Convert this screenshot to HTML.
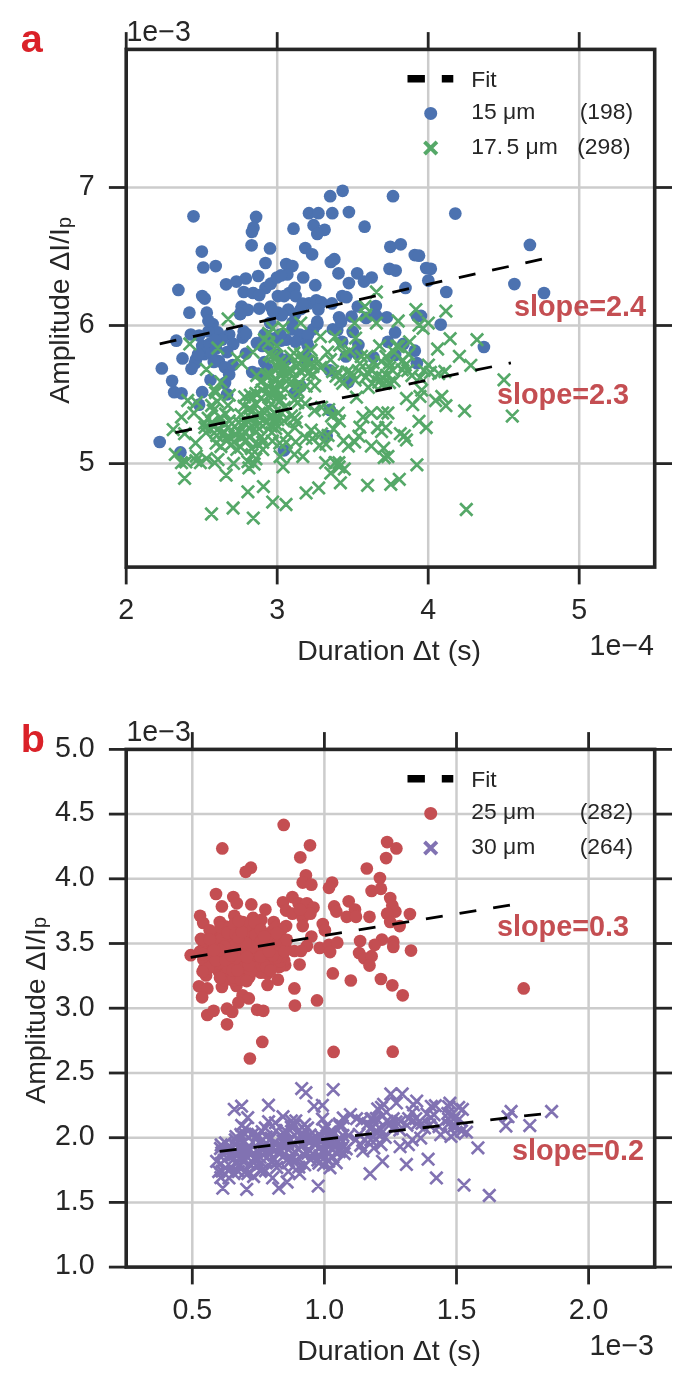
<!DOCTYPE html>
<html><head><meta charset="utf-8"><title>Scatter</title>
<style>html,body{margin:0;padding:0;background:#fff}svg{display:block;will-change:transform}text{font-family:"Liberation Sans",sans-serif}</style></head>
<body>
<svg width="675" height="1391" viewBox="0 0 675 1391">
<rect width="675" height="1391" fill="#fff"/>
<defs><clipPath id="ca"><rect x="126.2" y="49.4" width="528.5" height="517.7"/></clipPath>
<clipPath id="cb"><rect x="126.2" y="749.4" width="528.5" height="517.7"/></clipPath></defs>
<line x1="277.2" y1="49.4" x2="277.2" y2="567.1" stroke="#cccccc" stroke-width="2.5"/>
<line x1="428.2" y1="49.4" x2="428.2" y2="567.1" stroke="#cccccc" stroke-width="2.5"/>
<line x1="579.2" y1="49.4" x2="579.2" y2="567.1" stroke="#cccccc" stroke-width="2.5"/>
<line x1="126.2" y1="187.5" x2="654.7" y2="187.5" stroke="#cccccc" stroke-width="2.5"/>
<line x1="126.2" y1="325.5" x2="654.7" y2="325.5" stroke="#cccccc" stroke-width="2.5"/>
<line x1="126.2" y1="463.6" x2="654.7" y2="463.6" stroke="#cccccc" stroke-width="2.5"/>
<g clip-path="url(#ca)">
<circle cx="193.5" cy="216.3" r="6.35" fill="#4c72b0"/>
<circle cx="256.1" cy="216.9" r="6.35" fill="#4c72b0"/>
<circle cx="253.5" cy="227.7" r="6.35" fill="#4c72b0"/>
<circle cx="252.0" cy="231.9" r="6.35" fill="#4c72b0"/>
<circle cx="251.6" cy="245.3" r="6.35" fill="#4c72b0"/>
<circle cx="270.0" cy="248.4" r="6.35" fill="#4c72b0"/>
<circle cx="201.8" cy="251.6" r="6.35" fill="#4c72b0"/>
<circle cx="265.5" cy="263.0" r="6.35" fill="#4c72b0"/>
<circle cx="203.3" cy="267.5" r="6.35" fill="#4c72b0"/>
<circle cx="215.7" cy="266.1" r="6.35" fill="#4c72b0"/>
<circle cx="178.4" cy="289.9" r="6.35" fill="#4c72b0"/>
<circle cx="226.1" cy="284.3" r="6.35" fill="#4c72b0"/>
<circle cx="236.4" cy="281.6" r="6.35" fill="#4c72b0"/>
<circle cx="245.8" cy="278.5" r="6.35" fill="#4c72b0"/>
<circle cx="258.2" cy="276.0" r="6.35" fill="#4c72b0"/>
<circle cx="243.7" cy="292.0" r="6.35" fill="#4c72b0"/>
<circle cx="253.0" cy="293.0" r="6.35" fill="#4c72b0"/>
<circle cx="265.5" cy="287.9" r="6.35" fill="#4c72b0"/>
<circle cx="270.7" cy="283.7" r="6.35" fill="#4c72b0"/>
<circle cx="276.9" cy="277.5" r="6.35" fill="#4c72b0"/>
<circle cx="259.3" cy="295.1" r="6.35" fill="#4c72b0"/>
<circle cx="202.2" cy="296.1" r="6.35" fill="#4c72b0"/>
<circle cx="204.7" cy="298.6" r="6.35" fill="#4c72b0"/>
<circle cx="241.6" cy="306.5" r="6.35" fill="#4c72b0"/>
<circle cx="240.6" cy="313.8" r="6.35" fill="#4c72b0"/>
<circle cx="189.4" cy="312.7" r="6.35" fill="#4c72b0"/>
<circle cx="206.8" cy="312.7" r="6.35" fill="#4c72b0"/>
<circle cx="259.3" cy="308.6" r="6.35" fill="#4c72b0"/>
<circle cx="270.7" cy="306.5" r="6.35" fill="#4c72b0"/>
<circle cx="277.9" cy="296.1" r="6.35" fill="#4c72b0"/>
<circle cx="277.9" cy="312.7" r="6.35" fill="#4c72b0"/>
<circle cx="212.6" cy="324.1" r="6.35" fill="#4c72b0"/>
<circle cx="217.8" cy="332.4" r="6.35" fill="#4c72b0"/>
<circle cx="208.4" cy="331.4" r="6.35" fill="#4c72b0"/>
<circle cx="190.8" cy="334.5" r="6.35" fill="#4c72b0"/>
<circle cx="199.1" cy="335.6" r="6.35" fill="#4c72b0"/>
<circle cx="176.3" cy="340.7" r="6.35" fill="#4c72b0"/>
<circle cx="243.7" cy="331.4" r="6.35" fill="#4c72b0"/>
<circle cx="242.7" cy="337.6" r="6.35" fill="#4c72b0"/>
<circle cx="229.2" cy="334.5" r="6.35" fill="#4c72b0"/>
<circle cx="233.3" cy="343.9" r="6.35" fill="#4c72b0"/>
<circle cx="202.2" cy="345.9" r="6.35" fill="#4c72b0"/>
<circle cx="209.5" cy="343.9" r="6.35" fill="#4c72b0"/>
<circle cx="221.9" cy="339.7" r="6.35" fill="#4c72b0"/>
<circle cx="264.4" cy="334.5" r="6.35" fill="#4c72b0"/>
<circle cx="272.7" cy="339.7" r="6.35" fill="#4c72b0"/>
<circle cx="262.4" cy="345.9" r="6.35" fill="#4c72b0"/>
<circle cx="182.5" cy="358.4" r="6.35" fill="#4c72b0"/>
<circle cx="196.0" cy="359.4" r="6.35" fill="#4c72b0"/>
<circle cx="204.3" cy="354.2" r="6.35" fill="#4c72b0"/>
<circle cx="227.1" cy="352.1" r="6.35" fill="#4c72b0"/>
<circle cx="342.6" cy="190.8" r="6.35" fill="#4c72b0"/>
<circle cx="330.2" cy="196.2" r="6.35" fill="#4c72b0"/>
<circle cx="393.0" cy="196.2" r="6.35" fill="#4c72b0"/>
<circle cx="309.0" cy="213.2" r="6.35" fill="#4c72b0"/>
<circle cx="318.4" cy="213.2" r="6.35" fill="#4c72b0"/>
<circle cx="332.3" cy="213.2" r="6.35" fill="#4c72b0"/>
<circle cx="348.9" cy="212.1" r="6.35" fill="#4c72b0"/>
<circle cx="293.5" cy="228.7" r="6.35" fill="#4c72b0"/>
<circle cx="313.6" cy="225.2" r="6.35" fill="#4c72b0"/>
<circle cx="324.6" cy="229.8" r="6.35" fill="#4c72b0"/>
<circle cx="317.3" cy="233.9" r="6.35" fill="#4c72b0"/>
<circle cx="364.6" cy="226.7" r="6.35" fill="#4c72b0"/>
<circle cx="305.3" cy="248.0" r="6.35" fill="#4c72b0"/>
<circle cx="312.1" cy="254.3" r="6.35" fill="#4c72b0"/>
<circle cx="390.3" cy="246.8" r="6.35" fill="#4c72b0"/>
<circle cx="400.7" cy="244.3" r="6.35" fill="#4c72b0"/>
<circle cx="414.8" cy="255.1" r="6.35" fill="#4c72b0"/>
<circle cx="330.8" cy="261.9" r="6.35" fill="#4c72b0"/>
<circle cx="334.3" cy="259.2" r="6.35" fill="#4c72b0"/>
<circle cx="286.2" cy="264.0" r="6.35" fill="#4c72b0"/>
<circle cx="292.4" cy="266.1" r="6.35" fill="#4c72b0"/>
<circle cx="287.3" cy="274.4" r="6.35" fill="#4c72b0"/>
<circle cx="281.0" cy="275.4" r="6.35" fill="#4c72b0"/>
<circle cx="338.5" cy="273.3" r="6.35" fill="#4c72b0"/>
<circle cx="303.2" cy="277.5" r="6.35" fill="#4c72b0"/>
<circle cx="357.2" cy="273.3" r="6.35" fill="#4c72b0"/>
<circle cx="371.7" cy="277.5" r="6.35" fill="#4c72b0"/>
<circle cx="364.0" cy="281.6" r="6.35" fill="#4c72b0"/>
<circle cx="389.5" cy="268.8" r="6.35" fill="#4c72b0"/>
<circle cx="395.7" cy="270.6" r="6.35" fill="#4c72b0"/>
<circle cx="348.9" cy="283.1" r="6.35" fill="#4c72b0"/>
<circle cx="315.3" cy="285.2" r="6.35" fill="#4c72b0"/>
<circle cx="294.5" cy="287.9" r="6.35" fill="#4c72b0"/>
<circle cx="289.3" cy="293.0" r="6.35" fill="#4c72b0"/>
<circle cx="295.6" cy="296.1" r="6.35" fill="#4c72b0"/>
<circle cx="284.1" cy="296.1" r="6.35" fill="#4c72b0"/>
<circle cx="342.2" cy="296.1" r="6.35" fill="#4c72b0"/>
<circle cx="346.4" cy="297.2" r="6.35" fill="#4c72b0"/>
<circle cx="405.5" cy="287.9" r="6.35" fill="#4c72b0"/>
<circle cx="309.0" cy="303.4" r="6.35" fill="#4c72b0"/>
<circle cx="316.3" cy="300.3" r="6.35" fill="#4c72b0"/>
<circle cx="321.5" cy="302.4" r="6.35" fill="#4c72b0"/>
<circle cx="318.4" cy="309.6" r="6.35" fill="#4c72b0"/>
<circle cx="331.9" cy="303.4" r="6.35" fill="#4c72b0"/>
<circle cx="288.3" cy="309.6" r="6.35" fill="#4c72b0"/>
<circle cx="281.0" cy="314.8" r="6.35" fill="#4c72b0"/>
<circle cx="357.8" cy="306.5" r="6.35" fill="#4c72b0"/>
<circle cx="375.8" cy="306.1" r="6.35" fill="#4c72b0"/>
<circle cx="339.1" cy="317.3" r="6.35" fill="#4c72b0"/>
<circle cx="351.6" cy="316.5" r="6.35" fill="#4c72b0"/>
<circle cx="366.1" cy="317.9" r="6.35" fill="#4c72b0"/>
<circle cx="386.8" cy="317.3" r="6.35" fill="#4c72b0"/>
<circle cx="416.9" cy="315.9" r="6.35" fill="#4c72b0"/>
<circle cx="317.3" cy="324.1" r="6.35" fill="#4c72b0"/>
<circle cx="313.2" cy="329.3" r="6.35" fill="#4c72b0"/>
<circle cx="332.9" cy="329.3" r="6.35" fill="#4c72b0"/>
<circle cx="292.4" cy="329.3" r="6.35" fill="#4c72b0"/>
<circle cx="299.7" cy="334.5" r="6.35" fill="#4c72b0"/>
<circle cx="286.2" cy="339.7" r="6.35" fill="#4c72b0"/>
<circle cx="295.6" cy="341.8" r="6.35" fill="#4c72b0"/>
<circle cx="307.0" cy="342.8" r="6.35" fill="#4c72b0"/>
<circle cx="395.1" cy="332.4" r="6.35" fill="#4c72b0"/>
<circle cx="342.2" cy="341.8" r="6.35" fill="#4c72b0"/>
<circle cx="358.4" cy="344.9" r="6.35" fill="#4c72b0"/>
<circle cx="387.9" cy="341.8" r="6.35" fill="#4c72b0"/>
<circle cx="403.4" cy="343.9" r="6.35" fill="#4c72b0"/>
<circle cx="455.3" cy="213.6" r="6.35" fill="#4c72b0"/>
<circle cx="529.9" cy="244.9" r="6.35" fill="#4c72b0"/>
<circle cx="514.4" cy="284.1" r="6.35" fill="#4c72b0"/>
<circle cx="544.0" cy="293.0" r="6.35" fill="#4c72b0"/>
<circle cx="426.2" cy="268.1" r="6.35" fill="#4c72b0"/>
<circle cx="430.8" cy="268.8" r="6.35" fill="#4c72b0"/>
<circle cx="428.3" cy="280.6" r="6.35" fill="#4c72b0"/>
<circle cx="446.3" cy="292.0" r="6.35" fill="#4c72b0"/>
<circle cx="421.0" cy="315.9" r="6.35" fill="#4c72b0"/>
<circle cx="440.7" cy="324.6" r="6.35" fill="#4c72b0"/>
<circle cx="483.9" cy="347.0" r="6.35" fill="#4c72b0"/>
<circle cx="419.0" cy="255.7" r="6.35" fill="#4c72b0"/>
<circle cx="161.8" cy="368.4" r="6.35" fill="#4c72b0"/>
<circle cx="172.1" cy="380.8" r="6.35" fill="#4c72b0"/>
<circle cx="174.2" cy="392.2" r="6.35" fill="#4c72b0"/>
<circle cx="181.5" cy="393.3" r="6.35" fill="#4c72b0"/>
<circle cx="159.7" cy="442.0" r="6.35" fill="#4c72b0"/>
<circle cx="180.4" cy="452.4" r="6.35" fill="#4c72b0"/>
<circle cx="195.0" cy="363.2" r="6.35" fill="#4c72b0"/>
<circle cx="218.8" cy="361.1" r="6.35" fill="#4c72b0"/>
<circle cx="225.0" cy="367.3" r="6.35" fill="#4c72b0"/>
<circle cx="229.2" cy="374.6" r="6.35" fill="#4c72b0"/>
<circle cx="210.5" cy="379.8" r="6.35" fill="#4c72b0"/>
<circle cx="225.0" cy="382.9" r="6.35" fill="#4c72b0"/>
<circle cx="202.2" cy="392.2" r="6.35" fill="#4c72b0"/>
<circle cx="227.1" cy="394.3" r="6.35" fill="#4c72b0"/>
<circle cx="199.1" cy="404.7" r="6.35" fill="#4c72b0"/>
<circle cx="264.4" cy="362.1" r="6.35" fill="#4c72b0"/>
<circle cx="258.2" cy="373.6" r="6.35" fill="#4c72b0"/>
<circle cx="356.7" cy="352.8" r="6.35" fill="#4c72b0"/>
<circle cx="373.3" cy="357.0" r="6.35" fill="#4c72b0"/>
<circle cx="395.1" cy="354.9" r="6.35" fill="#4c72b0"/>
<circle cx="414.8" cy="350.7" r="6.35" fill="#4c72b0"/>
<circle cx="416.9" cy="363.2" r="6.35" fill="#4c72b0"/>
<circle cx="329.8" cy="370.4" r="6.35" fill="#4c72b0"/>
<circle cx="300.7" cy="386.0" r="6.35" fill="#4c72b0"/>
<circle cx="294.5" cy="393.3" r="6.35" fill="#4c72b0"/>
<circle cx="329.8" cy="409.9" r="6.35" fill="#4c72b0"/>
<circle cx="326.7" cy="435.8" r="6.35" fill="#4c72b0"/>
<circle cx="284.1" cy="450.3" r="6.35" fill="#4c72b0"/>
<circle cx="307.0" cy="361.1" r="6.35" fill="#4c72b0"/>
<circle cx="348.4" cy="381.9" r="6.35" fill="#4c72b0"/>
<circle cx="345.9" cy="356.5" r="6.35" fill="#4c72b0"/>
<circle cx="270.1" cy="322.8" r="6.35" fill="#4c72b0"/>
<circle cx="211.4" cy="353.2" r="6.35" fill="#4c72b0"/>
<circle cx="208.4" cy="320.8" r="6.35" fill="#4c72b0"/>
<circle cx="281.3" cy="340.6" r="6.35" fill="#4c72b0"/>
<circle cx="295.2" cy="314.1" r="6.35" fill="#4c72b0"/>
<circle cx="270.0" cy="338.5" r="6.35" fill="#4c72b0"/>
<circle cx="191.5" cy="368.8" r="6.35" fill="#4c72b0"/>
<circle cx="298.2" cy="387.7" r="6.35" fill="#4c72b0"/>
<circle cx="280.3" cy="334.6" r="6.35" fill="#4c72b0"/>
<circle cx="337.2" cy="330.2" r="6.35" fill="#4c72b0"/>
<circle cx="317.2" cy="321.7" r="6.35" fill="#4c72b0"/>
<circle cx="286.4" cy="359.5" r="6.35" fill="#4c72b0"/>
<circle cx="308.0" cy="334.8" r="6.35" fill="#4c72b0"/>
<circle cx="213.8" cy="362.0" r="6.35" fill="#4c72b0"/>
<circle cx="277.4" cy="354.6" r="6.35" fill="#4c72b0"/>
<circle cx="268.1" cy="344.9" r="6.35" fill="#4c72b0"/>
<circle cx="300.9" cy="309.0" r="6.35" fill="#4c72b0"/>
<circle cx="246.1" cy="333.8" r="6.35" fill="#4c72b0"/>
<circle cx="376.1" cy="315.4" r="6.35" fill="#4c72b0"/>
<circle cx="307.9" cy="345.9" r="6.35" fill="#4c72b0"/>
<circle cx="247.8" cy="309.8" r="6.35" fill="#4c72b0"/>
<circle cx="302.7" cy="303.7" r="6.35" fill="#4c72b0"/>
<circle cx="252.2" cy="372.1" r="6.35" fill="#4c72b0"/>
<circle cx="198.1" cy="354.3" r="6.35" fill="#4c72b0"/>
<circle cx="281.8" cy="315.2" r="6.35" fill="#4c72b0"/>
<circle cx="306.7" cy="357.3" r="6.35" fill="#4c72b0"/>
<circle cx="240.0" cy="314.1" r="6.35" fill="#4c72b0"/>
<circle cx="232.7" cy="365.1" r="6.35" fill="#4c72b0"/>
<circle cx="216.1" cy="348.5" r="6.35" fill="#4c72b0"/>
<circle cx="256.9" cy="343.1" r="6.35" fill="#4c72b0"/>
<circle cx="352.7" cy="331.9" r="6.35" fill="#4c72b0"/>
<circle cx="341.1" cy="321.7" r="6.35" fill="#4c72b0"/>
<circle cx="245.9" cy="353.6" r="6.35" fill="#4c72b0"/>
<circle cx="273.0" cy="311.6" r="6.35" fill="#4c72b0"/>
<circle cx="292.4" cy="322.7" r="6.35" fill="#4c72b0"/>
<circle cx="215.0" cy="340.0" r="6.35" fill="#4c72b0"/>
<circle cx="267.5" cy="368.7" r="6.35" fill="#4c72b0"/>
<circle cx="275.4" cy="338.2" r="6.35" fill="#4c72b0"/>
<path d="M221.9 312.8l12.4 12.4m-12.4 0l12.4 -12.4M183.6 337.7l12.4 12.4m-12.4 0l12.4 -12.4M211.6 341.8l12.4 12.4m-12.4 0l12.4 -12.4M246.8 345.9l12.4 12.4m-12.4 0l12.4 -12.4M262.4 327.3l12.4 12.4m-12.4 0l12.4 -12.4M266.5 322.1l12.4 12.4m-12.4 0l12.4 -12.4M258.2 333.5l12.4 12.4m-12.4 0l12.4 -12.4M270.7 339.7l12.4 12.4m-12.4 0l12.4 -12.4M231.3 352.2l12.4 12.4m-12.4 0l12.4 -12.4M265.5 350.1l12.4 12.4m-12.4 0l12.4 -12.4M370.2 285.8l12.4 12.4m-12.4 0l12.4 -12.4M358.8 300.3l12.4 12.4m-12.4 0l12.4 -12.4M409.7 303.4l12.4 12.4m-12.4 0l12.4 -12.4M294.5 316.9l12.4 12.4m-12.4 0l12.4 -12.4M276.9 321.1l12.4 12.4m-12.4 0l12.4 -12.4M348.5 316.9l12.4 12.4m-12.4 0l12.4 -12.4M359.9 308.6l12.4 12.4m-12.4 0l12.4 -12.4M370.2 316.9l12.4 12.4m-12.4 0l12.4 -12.4M392.0 314.8l12.4 12.4m-12.4 0l12.4 -12.4M314.2 330.4l12.4 12.4m-12.4 0l12.4 -12.4M328.8 330.4l12.4 12.4m-12.4 0l12.4 -12.4M304.9 343.9l12.4 12.4m-12.4 0l12.4 -12.4M321.5 345.9l12.4 12.4m-12.4 0l12.4 -12.4M294.5 348.0l12.4 12.4m-12.4 0l12.4 -12.4M284.2 350.1l12.4 12.4m-12.4 0l12.4 -12.4M338.1 348.0l12.4 12.4m-12.4 0l12.4 -12.4M373.4 339.7l12.4 12.4m-12.4 0l12.4 -12.4M403.4 335.6l12.4 12.4m-12.4 0l12.4 -12.4M387.9 345.9l12.4 12.4m-12.4 0l12.4 -12.4M402.4 348.0l12.4 12.4m-12.4 0l12.4 -12.4M360.9 350.1l12.4 12.4m-12.4 0l12.4 -12.4M412.8 319.0l12.4 12.4m-12.4 0l12.4 -12.4M439.7 304.9l12.4 12.4m-12.4 0l12.4 -12.4M422.1 316.9l12.4 12.4m-12.4 0l12.4 -12.4M416.9 322.1l12.4 12.4m-12.4 0l12.4 -12.4M443.9 332.5l12.4 12.4m-12.4 0l12.4 -12.4M470.8 333.5l12.4 12.4m-12.4 0l12.4 -12.4M431.4 342.8l12.4 12.4m-12.4 0l12.4 -12.4M453.2 350.1l12.4 12.4m-12.4 0l12.4 -12.4M235.4 357.0l12.4 12.4m-12.4 0l12.4 -12.4M200.2 363.2l12.4 12.4m-12.4 0l12.4 -12.4M262.4 336.2l12.4 12.4m-12.4 0l12.4 -12.4M270.7 361.1l12.4 12.4m-12.4 0l12.4 -12.4M260.3 368.4l12.4 12.4m-12.4 0l12.4 -12.4M214.7 375.7l12.4 12.4m-12.4 0l12.4 -12.4M208.5 383.9l12.4 12.4m-12.4 0l12.4 -12.4M181.5 394.3l12.4 12.4m-12.4 0l12.4 -12.4M187.7 406.8l12.4 12.4m-12.4 0l12.4 -12.4M175.3 410.9l12.4 12.4m-12.4 0l12.4 -12.4M167.0 423.4l12.4 12.4m-12.4 0l12.4 -12.4M178.4 427.5l12.4 12.4m-12.4 0l12.4 -12.4M169.1 448.2l12.4 12.4m-12.4 0l12.4 -12.4M175.3 456.5l12.4 12.4m-12.4 0l12.4 -12.4M178.4 472.1l12.4 12.4m-12.4 0l12.4 -12.4M189.8 454.5l12.4 12.4m-12.4 0l12.4 -12.4M200.2 452.4l12.4 12.4m-12.4 0l12.4 -12.4M208.5 456.5l12.4 12.4m-12.4 0l12.4 -12.4M219.9 469.0l12.4 12.4m-12.4 0l12.4 -12.4M241.7 455.5l12.4 12.4m-12.4 0l12.4 -12.4M242.7 461.7l12.4 12.4m-12.4 0l12.4 -12.4M241.7 485.6l12.4 12.4m-12.4 0l12.4 -12.4M257.2 480.4l12.4 12.4m-12.4 0l12.4 -12.4M266.5 495.9l12.4 12.4m-12.4 0l12.4 -12.4M356.8 410.9l12.4 12.4m-12.4 0l12.4 -12.4M365.1 406.8l12.4 12.4m-12.4 0l12.4 -12.4M376.5 406.8l12.4 12.4m-12.4 0l12.4 -12.4M381.7 406.8l12.4 12.4m-12.4 0l12.4 -12.4M371.3 421.3l12.4 12.4m-12.4 0l12.4 -12.4M375.4 425.4l12.4 12.4m-12.4 0l12.4 -12.4M379.6 421.3l12.4 12.4m-12.4 0l12.4 -12.4M394.1 427.5l12.4 12.4m-12.4 0l12.4 -12.4M400.3 433.7l12.4 12.4m-12.4 0l12.4 -12.4M398.2 429.6l12.4 12.4m-12.4 0l12.4 -12.4M348.5 435.8l12.4 12.4m-12.4 0l12.4 -12.4M342.2 439.9l12.4 12.4m-12.4 0l12.4 -12.4M365.1 439.9l12.4 12.4m-12.4 0l12.4 -12.4M377.5 442.0l12.4 12.4m-12.4 0l12.4 -12.4M381.7 450.3l12.4 12.4m-12.4 0l12.4 -12.4M410.7 458.6l12.4 12.4m-12.4 0l12.4 -12.4M412.8 415.1l12.4 12.4m-12.4 0l12.4 -12.4M319.4 456.5l12.4 12.4m-12.4 0l12.4 -12.4M328.8 456.5l12.4 12.4m-12.4 0l12.4 -12.4M332.9 460.7l12.4 12.4m-12.4 0l12.4 -12.4M338.1 462.8l12.4 12.4m-12.4 0l12.4 -12.4M324.6 466.9l12.4 12.4m-12.4 0l12.4 -12.4M276.9 460.7l12.4 12.4m-12.4 0l12.4 -12.4M288.3 448.2l12.4 12.4m-12.4 0l12.4 -12.4M296.6 450.3l12.4 12.4m-12.4 0l12.4 -12.4M406.5 398.5l12.4 12.4m-12.4 0l12.4 -12.4M400.3 392.2l12.4 12.4m-12.4 0l12.4 -12.4M464.6 359.1l12.4 12.4m-12.4 0l12.4 -12.4M497.8 373.6l12.4 12.4m-12.4 0l12.4 -12.4M506.1 409.9l12.4 12.4m-12.4 0l12.4 -12.4M458.4 404.7l12.4 12.4m-12.4 0l12.4 -12.4M435.6 390.2l12.4 12.4m-12.4 0l12.4 -12.4M439.7 399.5l12.4 12.4m-12.4 0l12.4 -12.4M429.4 394.3l12.4 12.4m-12.4 0l12.4 -12.4M420.0 421.3l12.4 12.4m-12.4 0l12.4 -12.4M417.9 364.2l12.4 12.4m-12.4 0l12.4 -12.4M424.2 366.3l12.4 12.4m-12.4 0l12.4 -12.4M432.5 367.4l12.4 12.4m-12.4 0l12.4 -12.4M438.7 365.3l12.4 12.4m-12.4 0l12.4 -12.4M413.8 371.5l12.4 12.4m-12.4 0l12.4 -12.4M413.8 390.2l12.4 12.4m-12.4 0l12.4 -12.4M205.3 507.8l12.4 12.4m-12.4 0l12.4 -12.4M226.9 501.8l12.4 12.4m-12.4 0l12.4 -12.4M247.1 511.9l12.4 12.4m-12.4 0l12.4 -12.4M279.8 498.3l12.4 12.4m-12.4 0l12.4 -12.4M299.9 486.7l12.4 12.4m-12.4 0l12.4 -12.4M312.5 481.7l12.4 12.4m-12.4 0l12.4 -12.4M334.2 476.6l12.4 12.4m-12.4 0l12.4 -12.4M361.4 479.1l12.4 12.4m-12.4 0l12.4 -12.4M384.6 478.1l12.4 12.4m-12.4 0l12.4 -12.4M393.1 473.1l12.4 12.4m-12.4 0l12.4 -12.4M460.1 503.3l12.4 12.4m-12.4 0l12.4 -12.4M332.7 456.5l12.4 12.4m-12.4 0l12.4 -12.4M378.0 451.4l12.4 12.4m-12.4 0l12.4 -12.4M194.2 456.5l12.4 12.4m-12.4 0l12.4 -12.4M266.2 434.9l12.4 12.4m-12.4 0l12.4 -12.4M219.3 407.8l12.4 12.4m-12.4 0l12.4 -12.4M256.6 443.4l12.4 12.4m-12.4 0l12.4 -12.4M250.0 398.1l12.4 12.4m-12.4 0l12.4 -12.4M222.2 420.9l12.4 12.4m-12.4 0l12.4 -12.4M267.5 413.6l12.4 12.4m-12.4 0l12.4 -12.4M232.6 416.3l12.4 12.4m-12.4 0l12.4 -12.4M245.1 405.8l12.4 12.4m-12.4 0l12.4 -12.4M243.5 422.3l12.4 12.4m-12.4 0l12.4 -12.4M285.3 409.7l12.4 12.4m-12.4 0l12.4 -12.4M265.1 397.8l12.4 12.4m-12.4 0l12.4 -12.4M228.6 420.2l12.4 12.4m-12.4 0l12.4 -12.4M265.3 409.0l12.4 12.4m-12.4 0l12.4 -12.4M273.6 436.9l12.4 12.4m-12.4 0l12.4 -12.4M289.5 435.7l12.4 12.4m-12.4 0l12.4 -12.4M210.6 429.3l12.4 12.4m-12.4 0l12.4 -12.4M227.6 435.9l12.4 12.4m-12.4 0l12.4 -12.4M253.2 406.9l12.4 12.4m-12.4 0l12.4 -12.4M238.4 390.8l12.4 12.4m-12.4 0l12.4 -12.4M202.0 412.0l12.4 12.4m-12.4 0l12.4 -12.4M265.7 426.4l12.4 12.4m-12.4 0l12.4 -12.4M288.3 393.8l12.4 12.4m-12.4 0l12.4 -12.4M221.9 429.6l12.4 12.4m-12.4 0l12.4 -12.4M217.6 426.9l12.4 12.4m-12.4 0l12.4 -12.4M253.6 416.9l12.4 12.4m-12.4 0l12.4 -12.4M211.0 423.7l12.4 12.4m-12.4 0l12.4 -12.4M198.4 417.0l12.4 12.4m-12.4 0l12.4 -12.4M251.9 437.9l12.4 12.4m-12.4 0l12.4 -12.4M205.6 416.3l12.4 12.4m-12.4 0l12.4 -12.4M250.2 425.3l12.4 12.4m-12.4 0l12.4 -12.4M211.8 453.4l12.4 12.4m-12.4 0l12.4 -12.4M224.4 438.9l12.4 12.4m-12.4 0l12.4 -12.4M238.7 425.5l12.4 12.4m-12.4 0l12.4 -12.4M288.5 421.5l12.4 12.4m-12.4 0l12.4 -12.4M243.5 402.0l12.4 12.4m-12.4 0l12.4 -12.4M221.8 399.1l12.4 12.4m-12.4 0l12.4 -12.4M291.5 384.7l12.4 12.4m-12.4 0l12.4 -12.4M179.7 455.7l12.4 12.4m-12.4 0l12.4 -12.4M275.4 406.7l12.4 12.4m-12.4 0l12.4 -12.4M262.6 401.5l12.4 12.4m-12.4 0l12.4 -12.4M229.1 428.7l12.4 12.4m-12.4 0l12.4 -12.4M245.5 412.6l12.4 12.4m-12.4 0l12.4 -12.4M243.0 431.0l12.4 12.4m-12.4 0l12.4 -12.4M264.8 420.0l12.4 12.4m-12.4 0l12.4 -12.4M237.8 400.0l12.4 12.4m-12.4 0l12.4 -12.4M247.9 457.8l12.4 12.4m-12.4 0l12.4 -12.4M198.7 421.2l12.4 12.4m-12.4 0l12.4 -12.4M260.2 416.5l12.4 12.4m-12.4 0l12.4 -12.4M262.5 389.5l12.4 12.4m-12.4 0l12.4 -12.4M241.8 415.5l12.4 12.4m-12.4 0l12.4 -12.4M209.4 386.5l12.4 12.4m-12.4 0l12.4 -12.4M277.6 414.7l12.4 12.4m-12.4 0l12.4 -12.4M205.4 399.3l12.4 12.4m-12.4 0l12.4 -12.4M223.0 414.8l12.4 12.4m-12.4 0l12.4 -12.4M190.1 449.9l12.4 12.4m-12.4 0l12.4 -12.4M252.8 411.0l12.4 12.4m-12.4 0l12.4 -12.4M280.0 436.3l12.4 12.4m-12.4 0l12.4 -12.4M218.4 418.5l12.4 12.4m-12.4 0l12.4 -12.4M214.7 440.3l12.4 12.4m-12.4 0l12.4 -12.4M223.1 389.0l12.4 12.4m-12.4 0l12.4 -12.4M244.1 389.0l12.4 12.4m-12.4 0l12.4 -12.4M271.6 413.4l12.4 12.4m-12.4 0l12.4 -12.4M245.3 442.3l12.4 12.4m-12.4 0l12.4 -12.4M258.5 406.9l12.4 12.4m-12.4 0l12.4 -12.4M214.3 411.1l12.4 12.4m-12.4 0l12.4 -12.4M230.6 443.2l12.4 12.4m-12.4 0l12.4 -12.4M207.6 420.5l12.4 12.4m-12.4 0l12.4 -12.4M250.7 420.3l12.4 12.4m-12.4 0l12.4 -12.4M237.6 416.3l12.4 12.4m-12.4 0l12.4 -12.4M269.7 418.1l12.4 12.4m-12.4 0l12.4 -12.4M255.2 391.7l12.4 12.4m-12.4 0l12.4 -12.4M220.8 433.9l12.4 12.4m-12.4 0l12.4 -12.4M190.4 396.1l12.4 12.4m-12.4 0l12.4 -12.4M269.5 422.4l12.4 12.4m-12.4 0l12.4 -12.4M199.8 426.5l12.4 12.4m-12.4 0l12.4 -12.4M274.4 394.1l12.4 12.4m-12.4 0l12.4 -12.4M207.1 404.3l12.4 12.4m-12.4 0l12.4 -12.4M211.1 395.2l12.4 12.4m-12.4 0l12.4 -12.4M249.7 452.6l12.4 12.4m-12.4 0l12.4 -12.4M235.2 431.9l12.4 12.4m-12.4 0l12.4 -12.4M227.4 457.2l12.4 12.4m-12.4 0l12.4 -12.4M234.8 408.5l12.4 12.4m-12.4 0l12.4 -12.4M245.8 448.5l12.4 12.4m-12.4 0l12.4 -12.4M256.5 436.1l12.4 12.4m-12.4 0l12.4 -12.4M240.0 433.7l12.4 12.4m-12.4 0l12.4 -12.4M268.4 406.5l12.4 12.4m-12.4 0l12.4 -12.4M273.9 450.4l12.4 12.4m-12.4 0l12.4 -12.4M290.3 415.6l12.4 12.4m-12.4 0l12.4 -12.4M278.2 401.3l12.4 12.4m-12.4 0l12.4 -12.4M189.4 436.8l12.4 12.4m-12.4 0l12.4 -12.4M233.1 425.7l12.4 12.4m-12.4 0l12.4 -12.4M249.6 387.3l12.4 12.4m-12.4 0l12.4 -12.4M254.7 430.8l12.4 12.4m-12.4 0l12.4 -12.4M234.4 440.9l12.4 12.4m-12.4 0l12.4 -12.4M209.9 437.0l12.4 12.4m-12.4 0l12.4 -12.4M293.5 364.5l12.4 12.4m-12.4 0l12.4 -12.4M288.5 372.2l12.4 12.4m-12.4 0l12.4 -12.4M272.4 361.4l12.4 12.4m-12.4 0l12.4 -12.4M299.3 362.6l12.4 12.4m-12.4 0l12.4 -12.4M263.0 348.2l12.4 12.4m-12.4 0l12.4 -12.4M281.7 364.8l12.4 12.4m-12.4 0l12.4 -12.4M300.4 354.8l12.4 12.4m-12.4 0l12.4 -12.4M280.4 375.1l12.4 12.4m-12.4 0l12.4 -12.4M296.3 353.6l12.4 12.4m-12.4 0l12.4 -12.4M312.4 355.4l12.4 12.4m-12.4 0l12.4 -12.4M306.7 360.3l12.4 12.4m-12.4 0l12.4 -12.4M273.1 355.1l12.4 12.4m-12.4 0l12.4 -12.4M274.4 387.4l12.4 12.4m-12.4 0l12.4 -12.4M308.5 379.7l12.4 12.4m-12.4 0l12.4 -12.4M276.8 362.8l12.4 12.4m-12.4 0l12.4 -12.4M306.5 368.0l12.4 12.4m-12.4 0l12.4 -12.4M326.4 365.4l12.4 12.4m-12.4 0l12.4 -12.4M261.1 371.3l12.4 12.4m-12.4 0l12.4 -12.4M262.1 380.5l12.4 12.4m-12.4 0l12.4 -12.4M268.2 381.1l12.4 12.4m-12.4 0l12.4 -12.4M278.9 383.0l12.4 12.4m-12.4 0l12.4 -12.4M264.0 368.1l12.4 12.4m-12.4 0l12.4 -12.4M273.1 379.0l12.4 12.4m-12.4 0l12.4 -12.4M251.0 388.3l12.4 12.4m-12.4 0l12.4 -12.4M277.5 371.9l12.4 12.4m-12.4 0l12.4 -12.4M250.5 369.3l12.4 12.4m-12.4 0l12.4 -12.4M256.0 383.9l12.4 12.4m-12.4 0l12.4 -12.4M314.5 361.4l12.4 12.4m-12.4 0l12.4 -12.4M254.6 376.0l12.4 12.4m-12.4 0l12.4 -12.4M287.7 346.9l12.4 12.4m-12.4 0l12.4 -12.4M300.0 380.0l12.4 12.4m-12.4 0l12.4 -12.4M270.8 373.6l12.4 12.4m-12.4 0l12.4 -12.4M269.4 385.5l12.4 12.4m-12.4 0l12.4 -12.4M301.9 367.2l12.4 12.4m-12.4 0l12.4 -12.4M286.2 365.0l12.4 12.4m-12.4 0l12.4 -12.4M292.2 378.7l12.4 12.4m-12.4 0l12.4 -12.4M277.5 356.7l12.4 12.4m-12.4 0l12.4 -12.4M285.3 375.6l12.4 12.4m-12.4 0l12.4 -12.4M290.4 359.9l12.4 12.4m-12.4 0l12.4 -12.4M273.5 368.3l12.4 12.4m-12.4 0l12.4 -12.4M266.5 389.5l12.4 12.4m-12.4 0l12.4 -12.4M269.1 350.9l12.4 12.4m-12.4 0l12.4 -12.4M383.5 361.2l12.4 12.4m-12.4 0l12.4 -12.4M352.1 364.4l12.4 12.4m-12.4 0l12.4 -12.4M362.4 367.5l12.4 12.4m-12.4 0l12.4 -12.4M387.9 374.6l12.4 12.4m-12.4 0l12.4 -12.4M383.3 376.4l12.4 12.4m-12.4 0l12.4 -12.4M386.6 364.2l12.4 12.4m-12.4 0l12.4 -12.4M366.9 356.3l12.4 12.4m-12.4 0l12.4 -12.4M334.2 373.2l12.4 12.4m-12.4 0l12.4 -12.4M370.9 369.8l12.4 12.4m-12.4 0l12.4 -12.4M379.8 350.3l12.4 12.4m-12.4 0l12.4 -12.4M353.8 357.4l12.4 12.4m-12.4 0l12.4 -12.4M399.1 358.9l12.4 12.4m-12.4 0l12.4 -12.4M375.1 355.2l12.4 12.4m-12.4 0l12.4 -12.4M340.7 366.0l12.4 12.4m-12.4 0l12.4 -12.4M336.5 377.1l12.4 12.4m-12.4 0l12.4 -12.4M364.6 362.6l12.4 12.4m-12.4 0l12.4 -12.4M396.1 363.7l12.4 12.4m-12.4 0l12.4 -12.4M331.6 366.0l12.4 12.4m-12.4 0l12.4 -12.4M365.8 377.4l12.4 12.4m-12.4 0l12.4 -12.4M372.5 375.8l12.4 12.4m-12.4 0l12.4 -12.4M376.2 371.1l12.4 12.4m-12.4 0l12.4 -12.4M383.2 356.9l12.4 12.4m-12.4 0l12.4 -12.4M415.5 383.9l12.4 12.4m-12.4 0l12.4 -12.4M401.4 364.4l12.4 12.4m-12.4 0l12.4 -12.4M422.2 358.9l12.4 12.4m-12.4 0l12.4 -12.4M343.7 344.6l12.4 12.4m-12.4 0l12.4 -12.4M380.2 369.1l12.4 12.4m-12.4 0l12.4 -12.4M359.7 370.8l12.4 12.4m-12.4 0l12.4 -12.4M329.8 370.0l12.4 12.4m-12.4 0l12.4 -12.4M377.7 377.2l12.4 12.4m-12.4 0l12.4 -12.4M396.8 354.2l12.4 12.4m-12.4 0l12.4 -12.4M350.3 391.0l12.4 12.4m-12.4 0l12.4 -12.4M392.4 340.3l12.4 12.4m-12.4 0l12.4 -12.4M355.0 350.4l12.4 12.4m-12.4 0l12.4 -12.4M405.7 369.4l12.4 12.4m-12.4 0l12.4 -12.4M362.2 381.2l12.4 12.4m-12.4 0l12.4 -12.4M345.3 366.9l12.4 12.4m-12.4 0l12.4 -12.4M348.9 373.8l12.4 12.4m-12.4 0l12.4 -12.4M291.6 396.3l12.4 12.4m-12.4 0l12.4 -12.4M337.4 434.5l12.4 12.4m-12.4 0l12.4 -12.4M371.6 421.7l12.4 12.4m-12.4 0l12.4 -12.4M352.7 430.0l12.4 12.4m-12.4 0l12.4 -12.4M299.0 397.5l12.4 12.4m-12.4 0l12.4 -12.4M333.2 414.8l12.4 12.4m-12.4 0l12.4 -12.4M308.3 404.4l12.4 12.4m-12.4 0l12.4 -12.4M325.4 409.8l12.4 12.4m-12.4 0l12.4 -12.4M300.0 432.0l12.4 12.4m-12.4 0l12.4 -12.4M332.0 406.9l12.4 12.4m-12.4 0l12.4 -12.4M353.7 421.0l12.4 12.4m-12.4 0l12.4 -12.4M327.3 422.9l12.4 12.4m-12.4 0l12.4 -12.4M315.4 401.1l12.4 12.4m-12.4 0l12.4 -12.4M319.8 437.8l12.4 12.4m-12.4 0l12.4 -12.4M313.4 439.3l12.4 12.4m-12.4 0l12.4 -12.4M288.5 411.9l12.4 12.4m-12.4 0l12.4 -12.4M322.5 403.4l12.4 12.4m-12.4 0l12.4 -12.4M315.3 427.6l12.4 12.4m-12.4 0l12.4 -12.4M305.0 423.9l12.4 12.4m-12.4 0l12.4 -12.4M281.9 428.2l12.4 12.4m-12.4 0l12.4 -12.4M321.9 429.2l12.4 12.4m-12.4 0l12.4 -12.4M306.2 432.5l12.4 12.4m-12.4 0l12.4 -12.4M333.5 338.8l12.4 12.4m-12.4 0l12.4 -12.4M349.4 331.9l12.4 12.4m-12.4 0l12.4 -12.4M390.6 340.0l12.4 12.4m-12.4 0l12.4 -12.4M324.3 353.5l12.4 12.4m-12.4 0l12.4 -12.4M292.1 357.0l12.4 12.4m-12.4 0l12.4 -12.4M355.3 350.1l12.4 12.4m-12.4 0l12.4 -12.4M305.6 357.0l12.4 12.4m-12.4 0l12.4 -12.4" stroke="#55a868" stroke-width="2.7" fill="none"/>
</g>
<line x1="159.7" y1="343.9" x2="543.4" y2="258.8" stroke="#000" stroke-width="2.8" stroke-dasharray="17 17.05"/>
<line x1="175.3" y1="432.7" x2="510.9" y2="362.8" stroke="#000" stroke-width="2.8" stroke-dasharray="17 17.05"/>
<line x1="126.2" y1="32.1" x2="126.2" y2="49.4" stroke="#262626" stroke-width="2.8"/>
<line x1="126.2" y1="567.1" x2="126.2" y2="584.4" stroke="#262626" stroke-width="2.8"/>
<line x1="277.2" y1="32.1" x2="277.2" y2="49.4" stroke="#262626" stroke-width="2.8"/>
<line x1="277.2" y1="567.1" x2="277.2" y2="584.4" stroke="#262626" stroke-width="2.8"/>
<line x1="428.2" y1="32.1" x2="428.2" y2="49.4" stroke="#262626" stroke-width="2.8"/>
<line x1="428.2" y1="567.1" x2="428.2" y2="584.4" stroke="#262626" stroke-width="2.8"/>
<line x1="579.2" y1="32.1" x2="579.2" y2="49.4" stroke="#262626" stroke-width="2.8"/>
<line x1="579.2" y1="567.1" x2="579.2" y2="584.4" stroke="#262626" stroke-width="2.8"/>
<line x1="108.9" y1="187.5" x2="126.2" y2="187.5" stroke="#262626" stroke-width="2.8"/>
<line x1="654.7" y1="187.5" x2="672.0" y2="187.5" stroke="#262626" stroke-width="2.8"/>
<line x1="108.9" y1="325.5" x2="126.2" y2="325.5" stroke="#262626" stroke-width="2.8"/>
<line x1="654.7" y1="325.5" x2="672.0" y2="325.5" stroke="#262626" stroke-width="2.8"/>
<line x1="108.9" y1="463.6" x2="126.2" y2="463.6" stroke="#262626" stroke-width="2.8"/>
<line x1="654.7" y1="463.6" x2="672.0" y2="463.6" stroke="#262626" stroke-width="2.8"/>
<rect x="126.2" y="49.4" width="528.5" height="517.7" fill="none" stroke="#262626" stroke-width="3.6"/>
<text x="126.2" y="619.0" font-size="28.6" text-anchor="middle" fill="#262626">2</text>
<text x="277.2" y="619.0" font-size="28.6" text-anchor="middle" fill="#262626">3</text>
<text x="428.2" y="619.0" font-size="28.6" text-anchor="middle" fill="#262626">4</text>
<text x="579.2" y="619.0" font-size="28.6" text-anchor="middle" fill="#262626">5</text>
<text x="94.7" y="194.7" font-size="28.6" text-anchor="end" fill="#262626">7</text>
<text x="94.7" y="332.7" font-size="28.6" text-anchor="end" fill="#262626">6</text>
<text x="94.7" y="470.8" font-size="28.6" text-anchor="end" fill="#262626">5</text>
<line x1="407.5" y1="78.8" x2="453.3" y2="78.8" stroke="#000" stroke-width="7.6" stroke-dasharray="17.4 16.9"/>
<text x="471.3" y="86.7" font-size="22.9" fill="#262626">Fit</text>
<circle cx="430.7" cy="113.4" r="6.5" fill="#4c72b0"/>
<text x="471.3" y="119.4" font-size="22.9" fill="#262626">15 μm</text>
<text x="579.7" y="119.4" font-size="22.9" fill="#262626">(198)</text>
<path d="M424.5 141.8L436.9 154.2M424.5 154.2L436.9 141.8" stroke="#55a868" stroke-width="3.9" fill="none"/>
<text x="471.3" y="154.0" font-size="22.9" fill="#262626">17.<tspan dx="3.4">5 μm</tspan></text>
<text x="577.2" y="154.0" font-size="22.9" fill="#262626">(298)</text>
<text x="514" y="316" font-size="28.8" font-weight="bold" fill="#c44e52">slope=2.4</text>
<text x="497" y="404" font-size="28.8" font-weight="bold" fill="#c44e52">slope=2.3</text>
<text x="126.4" y="41" font-size="28.6" fill="#262626">1e−3</text>
<text x="654" y="655" font-size="28.6" text-anchor="end" fill="#262626">1e−4</text>
<text x="389" y="659.5" font-size="28.5" text-anchor="middle" fill="#262626">Duration Δt (s)</text>
<text transform="translate(69.3,310.3) rotate(-90)" font-size="28.5" text-anchor="middle" fill="#262626"><tspan letter-spacing="-0.2">Amplitude</tspan> ΔI/I<tspan font-size="19.8" dy="1.5">p</tspan></text>
<text x="20.8" y="51.6" font-size="39.6" font-weight="bold" fill="#da2128">a</text>
<line x1="192.3" y1="749.4" x2="192.3" y2="1267.1" stroke="#cccccc" stroke-width="2.5"/>
<line x1="324.4" y1="749.4" x2="324.4" y2="1267.1" stroke="#cccccc" stroke-width="2.5"/>
<line x1="456.5" y1="749.4" x2="456.5" y2="1267.1" stroke="#cccccc" stroke-width="2.5"/>
<line x1="588.6" y1="749.4" x2="588.6" y2="1267.1" stroke="#cccccc" stroke-width="2.5"/>
<line x1="126.2" y1="814.1" x2="654.7" y2="814.1" stroke="#cccccc" stroke-width="2.5"/>
<line x1="126.2" y1="878.8" x2="654.7" y2="878.8" stroke="#cccccc" stroke-width="2.5"/>
<line x1="126.2" y1="943.5" x2="654.7" y2="943.5" stroke="#cccccc" stroke-width="2.5"/>
<line x1="126.2" y1="1008.2" x2="654.7" y2="1008.2" stroke="#cccccc" stroke-width="2.5"/>
<line x1="126.2" y1="1073.0" x2="654.7" y2="1073.0" stroke="#cccccc" stroke-width="2.5"/>
<line x1="126.2" y1="1137.7" x2="654.7" y2="1137.7" stroke="#cccccc" stroke-width="2.5"/>
<line x1="126.2" y1="1202.4" x2="654.7" y2="1202.4" stroke="#cccccc" stroke-width="2.5"/>
<g clip-path="url(#cb)">
<circle cx="283.7" cy="824.9" r="6.35" fill="#c44e52"/>
<circle cx="222.3" cy="848.4" r="6.35" fill="#c44e52"/>
<circle cx="250.9" cy="867.7" r="6.35" fill="#c44e52"/>
<circle cx="245.7" cy="871.8" r="6.35" fill="#c44e52"/>
<circle cx="300.3" cy="857.3" r="6.35" fill="#c44e52"/>
<circle cx="310.0" cy="845.3" r="6.35" fill="#c44e52"/>
<circle cx="305.9" cy="875.3" r="6.35" fill="#c44e52"/>
<circle cx="302.7" cy="882.6" r="6.35" fill="#c44e52"/>
<circle cx="216.0" cy="894.0" r="6.35" fill="#c44e52"/>
<circle cx="233.3" cy="897.1" r="6.35" fill="#c44e52"/>
<circle cx="221.9" cy="906.4" r="6.35" fill="#c44e52"/>
<circle cx="236.8" cy="903.3" r="6.35" fill="#c44e52"/>
<circle cx="251.3" cy="904.4" r="6.35" fill="#c44e52"/>
<circle cx="265.4" cy="909.6" r="6.35" fill="#c44e52"/>
<circle cx="283.0" cy="902.3" r="6.35" fill="#c44e52"/>
<circle cx="292.4" cy="897.1" r="6.35" fill="#c44e52"/>
<circle cx="298.6" cy="903.3" r="6.35" fill="#c44e52"/>
<circle cx="306.9" cy="903.3" r="6.35" fill="#c44e52"/>
<circle cx="286.1" cy="910.6" r="6.35" fill="#c44e52"/>
<circle cx="292.4" cy="913.7" r="6.35" fill="#c44e52"/>
<circle cx="302.7" cy="917.9" r="6.35" fill="#c44e52"/>
<circle cx="200.1" cy="915.8" r="6.35" fill="#c44e52"/>
<circle cx="203.2" cy="923.0" r="6.35" fill="#c44e52"/>
<circle cx="219.8" cy="922.0" r="6.35" fill="#c44e52"/>
<circle cx="234.3" cy="915.8" r="6.35" fill="#c44e52"/>
<circle cx="253.0" cy="917.9" r="6.35" fill="#c44e52"/>
<circle cx="261.3" cy="919.9" r="6.35" fill="#c44e52"/>
<circle cx="273.7" cy="922.0" r="6.35" fill="#c44e52"/>
<circle cx="286.1" cy="926.1" r="6.35" fill="#c44e52"/>
<circle cx="302.7" cy="926.1" r="6.35" fill="#c44e52"/>
<circle cx="190.7" cy="955.2" r="6.35" fill="#c44e52"/>
<circle cx="299.6" cy="964.5" r="6.35" fill="#c44e52"/>
<circle cx="306.9" cy="945.9" r="6.35" fill="#c44e52"/>
<circle cx="294.4" cy="951.0" r="6.35" fill="#c44e52"/>
<circle cx="199.0" cy="986.3" r="6.35" fill="#c44e52"/>
<circle cx="207.3" cy="988.4" r="6.35" fill="#c44e52"/>
<circle cx="294.4" cy="988.4" r="6.35" fill="#c44e52"/>
<circle cx="202.1" cy="997.3" r="6.35" fill="#c44e52"/>
<circle cx="221.9" cy="987.0" r="6.35" fill="#c44e52"/>
<circle cx="207.3" cy="1015.0" r="6.35" fill="#c44e52"/>
<circle cx="213.6" cy="1010.8" r="6.35" fill="#c44e52"/>
<circle cx="227.0" cy="1008.7" r="6.35" fill="#c44e52"/>
<circle cx="232.2" cy="1011.9" r="6.35" fill="#c44e52"/>
<circle cx="227.0" cy="1024.3" r="6.35" fill="#c44e52"/>
<circle cx="236.4" cy="985.9" r="6.35" fill="#c44e52"/>
<circle cx="242.6" cy="995.3" r="6.35" fill="#c44e52"/>
<circle cx="248.8" cy="998.4" r="6.35" fill="#c44e52"/>
<circle cx="238.4" cy="1002.5" r="6.35" fill="#c44e52"/>
<circle cx="257.1" cy="1009.8" r="6.35" fill="#c44e52"/>
<circle cx="263.3" cy="1010.8" r="6.35" fill="#c44e52"/>
<circle cx="262.3" cy="1041.9" r="6.35" fill="#c44e52"/>
<circle cx="249.9" cy="1058.5" r="6.35" fill="#c44e52"/>
<circle cx="294.9" cy="1005.6" r="6.35" fill="#c44e52"/>
<circle cx="267.5" cy="984.9" r="6.35" fill="#c44e52"/>
<circle cx="277.9" cy="979.7" r="6.35" fill="#c44e52"/>
<circle cx="265.4" cy="972.4" r="6.35" fill="#c44e52"/>
<circle cx="285.1" cy="965.2" r="6.35" fill="#c44e52"/>
<circle cx="273.7" cy="963.1" r="6.35" fill="#c44e52"/>
<circle cx="311.4" cy="884.7" r="6.35" fill="#c44e52"/>
<circle cx="332.1" cy="882.6" r="6.35" fill="#c44e52"/>
<circle cx="329.0" cy="887.8" r="6.35" fill="#c44e52"/>
<circle cx="366.8" cy="868.5" r="6.35" fill="#c44e52"/>
<circle cx="379.9" cy="878.0" r="6.35" fill="#c44e52"/>
<circle cx="371.6" cy="890.9" r="6.35" fill="#c44e52"/>
<circle cx="380.9" cy="888.8" r="6.35" fill="#c44e52"/>
<circle cx="387.1" cy="842.1" r="6.35" fill="#c44e52"/>
<circle cx="396.4" cy="848.4" r="6.35" fill="#c44e52"/>
<circle cx="386.1" cy="858.1" r="6.35" fill="#c44e52"/>
<circle cx="390.2" cy="898.1" r="6.35" fill="#c44e52"/>
<circle cx="392.3" cy="905.4" r="6.35" fill="#c44e52"/>
<circle cx="395.4" cy="911.6" r="6.35" fill="#c44e52"/>
<circle cx="387.1" cy="913.7" r="6.35" fill="#c44e52"/>
<circle cx="409.9" cy="914.1" r="6.35" fill="#c44e52"/>
<circle cx="348.7" cy="901.3" r="6.35" fill="#c44e52"/>
<circle cx="334.2" cy="906.4" r="6.35" fill="#c44e52"/>
<circle cx="336.3" cy="911.6" r="6.35" fill="#c44e52"/>
<circle cx="355.0" cy="909.6" r="6.35" fill="#c44e52"/>
<circle cx="346.7" cy="916.8" r="6.35" fill="#c44e52"/>
<circle cx="356.0" cy="916.8" r="6.35" fill="#c44e52"/>
<circle cx="369.5" cy="916.8" r="6.35" fill="#c44e52"/>
<circle cx="313.5" cy="907.5" r="6.35" fill="#c44e52"/>
<circle cx="310.4" cy="913.7" r="6.35" fill="#c44e52"/>
<circle cx="322.8" cy="924.1" r="6.35" fill="#c44e52"/>
<circle cx="324.9" cy="930.3" r="6.35" fill="#c44e52"/>
<circle cx="390.2" cy="922.0" r="6.35" fill="#c44e52"/>
<circle cx="399.6" cy="926.1" r="6.35" fill="#c44e52"/>
<circle cx="311.4" cy="936.5" r="6.35" fill="#c44e52"/>
<circle cx="319.7" cy="947.9" r="6.35" fill="#c44e52"/>
<circle cx="329.0" cy="944.8" r="6.35" fill="#c44e52"/>
<circle cx="337.3" cy="942.7" r="6.35" fill="#c44e52"/>
<circle cx="330.1" cy="952.1" r="6.35" fill="#c44e52"/>
<circle cx="360.1" cy="941.1" r="6.35" fill="#c44e52"/>
<circle cx="381.9" cy="939.6" r="6.35" fill="#c44e52"/>
<circle cx="374.7" cy="944.8" r="6.35" fill="#c44e52"/>
<circle cx="393.3" cy="941.7" r="6.35" fill="#c44e52"/>
<circle cx="393.3" cy="946.9" r="6.35" fill="#c44e52"/>
<circle cx="411.0" cy="950.6" r="6.35" fill="#c44e52"/>
<circle cx="359.1" cy="953.1" r="6.35" fill="#c44e52"/>
<circle cx="364.3" cy="958.3" r="6.35" fill="#c44e52"/>
<circle cx="371.6" cy="956.2" r="6.35" fill="#c44e52"/>
<circle cx="369.5" cy="965.6" r="6.35" fill="#c44e52"/>
<circle cx="332.8" cy="973.4" r="6.35" fill="#c44e52"/>
<circle cx="350.8" cy="980.5" r="6.35" fill="#c44e52"/>
<circle cx="380.9" cy="979.0" r="6.35" fill="#c44e52"/>
<circle cx="392.3" cy="985.3" r="6.35" fill="#c44e52"/>
<circle cx="300.0" cy="909.6" r="6.35" fill="#c44e52"/>
<circle cx="301.0" cy="951.0" r="6.35" fill="#c44e52"/>
<circle cx="402.7" cy="995.3" r="6.35" fill="#c44e52"/>
<circle cx="317.0" cy="1000.4" r="6.35" fill="#c44e52"/>
<circle cx="333.6" cy="1051.9" r="6.35" fill="#c44e52"/>
<circle cx="392.7" cy="1051.7" r="6.35" fill="#c44e52"/>
<circle cx="523.7" cy="988.4" r="6.35" fill="#c44e52"/>
<circle cx="246.8" cy="971.6" r="6.35" fill="#c44e52"/>
<circle cx="218.8" cy="971.6" r="6.35" fill="#c44e52"/>
<circle cx="233.4" cy="947.7" r="6.35" fill="#c44e52"/>
<circle cx="241.8" cy="963.4" r="6.35" fill="#c44e52"/>
<circle cx="271.0" cy="945.7" r="6.35" fill="#c44e52"/>
<circle cx="254.1" cy="932.2" r="6.35" fill="#c44e52"/>
<circle cx="230.1" cy="945.2" r="6.35" fill="#c44e52"/>
<circle cx="239.3" cy="928.3" r="6.35" fill="#c44e52"/>
<circle cx="239.5" cy="955.3" r="6.35" fill="#c44e52"/>
<circle cx="258.8" cy="933.6" r="6.35" fill="#c44e52"/>
<circle cx="206.1" cy="975.5" r="6.35" fill="#c44e52"/>
<circle cx="248.9" cy="944.4" r="6.35" fill="#c44e52"/>
<circle cx="254.7" cy="957.9" r="6.35" fill="#c44e52"/>
<circle cx="268.3" cy="942.7" r="6.35" fill="#c44e52"/>
<circle cx="223.6" cy="943.3" r="6.35" fill="#c44e52"/>
<circle cx="214.6" cy="954.4" r="6.35" fill="#c44e52"/>
<circle cx="222.9" cy="972.3" r="6.35" fill="#c44e52"/>
<circle cx="267.6" cy="934.2" r="6.35" fill="#c44e52"/>
<circle cx="235.1" cy="940.4" r="6.35" fill="#c44e52"/>
<circle cx="255.1" cy="929.2" r="6.35" fill="#c44e52"/>
<circle cx="284.2" cy="960.5" r="6.35" fill="#c44e52"/>
<circle cx="228.9" cy="958.2" r="6.35" fill="#c44e52"/>
<circle cx="233.0" cy="980.6" r="6.35" fill="#c44e52"/>
<circle cx="246.0" cy="946.5" r="6.35" fill="#c44e52"/>
<circle cx="234.0" cy="937.0" r="6.35" fill="#c44e52"/>
<circle cx="252.4" cy="965.9" r="6.35" fill="#c44e52"/>
<circle cx="260.1" cy="937.8" r="6.35" fill="#c44e52"/>
<circle cx="210.5" cy="961.0" r="6.35" fill="#c44e52"/>
<circle cx="216.0" cy="936.8" r="6.35" fill="#c44e52"/>
<circle cx="205.1" cy="948.0" r="6.35" fill="#c44e52"/>
<circle cx="269.4" cy="939.0" r="6.35" fill="#c44e52"/>
<circle cx="204.1" cy="968.4" r="6.35" fill="#c44e52"/>
<circle cx="245.0" cy="964.9" r="6.35" fill="#c44e52"/>
<circle cx="272.6" cy="943.1" r="6.35" fill="#c44e52"/>
<circle cx="237.0" cy="950.8" r="6.35" fill="#c44e52"/>
<circle cx="212.5" cy="967.0" r="6.35" fill="#c44e52"/>
<circle cx="278.1" cy="948.1" r="6.35" fill="#c44e52"/>
<circle cx="218.0" cy="940.8" r="6.35" fill="#c44e52"/>
<circle cx="228.1" cy="938.6" r="6.35" fill="#c44e52"/>
<circle cx="225.1" cy="926.4" r="6.35" fill="#c44e52"/>
<circle cx="250.5" cy="950.3" r="6.35" fill="#c44e52"/>
<circle cx="243.7" cy="969.6" r="6.35" fill="#c44e52"/>
<circle cx="220.2" cy="946.0" r="6.35" fill="#c44e52"/>
<circle cx="227.6" cy="964.4" r="6.35" fill="#c44e52"/>
<circle cx="235.4" cy="967.8" r="6.35" fill="#c44e52"/>
<circle cx="241.3" cy="947.0" r="6.35" fill="#c44e52"/>
<circle cx="235.8" cy="963.2" r="6.35" fill="#c44e52"/>
<circle cx="245.7" cy="938.3" r="6.35" fill="#c44e52"/>
<circle cx="235.9" cy="944.3" r="6.35" fill="#c44e52"/>
<circle cx="232.7" cy="966.3" r="6.35" fill="#c44e52"/>
<circle cx="249.7" cy="941.4" r="6.35" fill="#c44e52"/>
<circle cx="224.3" cy="975.0" r="6.35" fill="#c44e52"/>
<circle cx="244.4" cy="959.1" r="6.35" fill="#c44e52"/>
<circle cx="223.6" cy="951.7" r="6.35" fill="#c44e52"/>
<circle cx="251.7" cy="962.0" r="6.35" fill="#c44e52"/>
<circle cx="250.9" cy="926.3" r="6.35" fill="#c44e52"/>
<circle cx="247.2" cy="935.2" r="6.35" fill="#c44e52"/>
<circle cx="257.8" cy="958.7" r="6.35" fill="#c44e52"/>
<circle cx="227.5" cy="967.8" r="6.35" fill="#c44e52"/>
<circle cx="218.3" cy="963.1" r="6.35" fill="#c44e52"/>
<circle cx="253.9" cy="944.2" r="6.35" fill="#c44e52"/>
<circle cx="257.1" cy="943.1" r="6.35" fill="#c44e52"/>
<circle cx="221.5" cy="936.3" r="6.35" fill="#c44e52"/>
<circle cx="272.4" cy="931.0" r="6.35" fill="#c44e52"/>
<circle cx="285.3" cy="946.3" r="6.35" fill="#c44e52"/>
<circle cx="231.9" cy="961.6" r="6.35" fill="#c44e52"/>
<circle cx="267.6" cy="973.6" r="6.35" fill="#c44e52"/>
<circle cx="281.3" cy="929.9" r="6.35" fill="#c44e52"/>
<circle cx="261.8" cy="951.9" r="6.35" fill="#c44e52"/>
<circle cx="240.4" cy="972.0" r="6.35" fill="#c44e52"/>
<circle cx="254.5" cy="951.9" r="6.35" fill="#c44e52"/>
<circle cx="248.8" cy="954.3" r="6.35" fill="#c44e52"/>
<circle cx="269.6" cy="956.9" r="6.35" fill="#c44e52"/>
<circle cx="267.6" cy="962.2" r="6.35" fill="#c44e52"/>
<circle cx="243.8" cy="934.1" r="6.35" fill="#c44e52"/>
<circle cx="222.1" cy="957.1" r="6.35" fill="#c44e52"/>
<circle cx="200.0" cy="951.6" r="6.35" fill="#c44e52"/>
<circle cx="267.5" cy="954.7" r="6.35" fill="#c44e52"/>
<circle cx="263.8" cy="940.9" r="6.35" fill="#c44e52"/>
<circle cx="276.0" cy="927.2" r="6.35" fill="#c44e52"/>
<circle cx="279.3" cy="967.0" r="6.35" fill="#c44e52"/>
<circle cx="247.6" cy="925.3" r="6.35" fill="#c44e52"/>
<circle cx="234.1" cy="930.0" r="6.35" fill="#c44e52"/>
<circle cx="271.4" cy="960.0" r="6.35" fill="#c44e52"/>
<circle cx="255.9" cy="948.9" r="6.35" fill="#c44e52"/>
<circle cx="251.9" cy="953.6" r="6.35" fill="#c44e52"/>
<circle cx="273.5" cy="939.2" r="6.35" fill="#c44e52"/>
<circle cx="244.7" cy="974.2" r="6.35" fill="#c44e52"/>
<circle cx="238.9" cy="934.1" r="6.35" fill="#c44e52"/>
<circle cx="239.2" cy="941.1" r="6.35" fill="#c44e52"/>
<circle cx="220.6" cy="927.3" r="6.35" fill="#c44e52"/>
<circle cx="203.3" cy="959.5" r="6.35" fill="#c44e52"/>
<circle cx="280.0" cy="961.0" r="6.35" fill="#c44e52"/>
<circle cx="255.5" cy="970.4" r="6.35" fill="#c44e52"/>
<circle cx="242.7" cy="954.4" r="6.35" fill="#c44e52"/>
<circle cx="255.1" cy="963.1" r="6.35" fill="#c44e52"/>
<circle cx="225.0" cy="980.2" r="6.35" fill="#c44e52"/>
<circle cx="255.6" cy="935.0" r="6.35" fill="#c44e52"/>
<circle cx="249.3" cy="976.9" r="6.35" fill="#c44e52"/>
<circle cx="260.9" cy="972.7" r="6.35" fill="#c44e52"/>
<circle cx="204.0" cy="944.4" r="6.35" fill="#c44e52"/>
<circle cx="265.2" cy="947.8" r="6.35" fill="#c44e52"/>
<circle cx="213.9" cy="963.0" r="6.35" fill="#c44e52"/>
<circle cx="227.7" cy="950.7" r="6.35" fill="#c44e52"/>
<circle cx="238.8" cy="976.5" r="6.35" fill="#c44e52"/>
<circle cx="242.9" cy="922.0" r="6.35" fill="#c44e52"/>
<circle cx="233.5" cy="977.0" r="6.35" fill="#c44e52"/>
<circle cx="209.7" cy="930.3" r="6.35" fill="#c44e52"/>
<circle cx="241.1" cy="979.7" r="6.35" fill="#c44e52"/>
<circle cx="278.7" cy="938.8" r="6.35" fill="#c44e52"/>
<circle cx="229.1" cy="927.5" r="6.35" fill="#c44e52"/>
<circle cx="211.3" cy="943.1" r="6.35" fill="#c44e52"/>
<circle cx="281.2" cy="956.0" r="6.35" fill="#c44e52"/>
<circle cx="241.0" cy="967.8" r="6.35" fill="#c44e52"/>
<circle cx="220.9" cy="953.8" r="6.35" fill="#c44e52"/>
<circle cx="249.5" cy="959.9" r="6.35" fill="#c44e52"/>
<circle cx="254.7" cy="922.6" r="6.35" fill="#c44e52"/>
<circle cx="206.4" cy="952.6" r="6.35" fill="#c44e52"/>
<circle cx="203.9" cy="940.4" r="6.35" fill="#c44e52"/>
<circle cx="211.3" cy="952.9" r="6.35" fill="#c44e52"/>
<circle cx="272.3" cy="950.7" r="6.35" fill="#c44e52"/>
<circle cx="221.1" cy="939.3" r="6.35" fill="#c44e52"/>
<circle cx="265.7" cy="952.2" r="6.35" fill="#c44e52"/>
<circle cx="260.9" cy="929.7" r="6.35" fill="#c44e52"/>
<circle cx="277.1" cy="933.2" r="6.35" fill="#c44e52"/>
<circle cx="257.6" cy="953.8" r="6.35" fill="#c44e52"/>
<circle cx="260.3" cy="965.0" r="6.35" fill="#c44e52"/>
<circle cx="227.5" cy="932.8" r="6.35" fill="#c44e52"/>
<circle cx="208.7" cy="967.8" r="6.35" fill="#c44e52"/>
<circle cx="224.3" cy="946.7" r="6.35" fill="#c44e52"/>
<circle cx="259.3" cy="948.3" r="6.35" fill="#c44e52"/>
<circle cx="242.6" cy="941.4" r="6.35" fill="#c44e52"/>
<circle cx="246.5" cy="951.5" r="6.35" fill="#c44e52"/>
<circle cx="216.0" cy="960.6" r="6.35" fill="#c44e52"/>
<circle cx="225.5" cy="955.1" r="6.35" fill="#c44e52"/>
<circle cx="260.7" cy="941.9" r="6.35" fill="#c44e52"/>
<circle cx="235.3" cy="958.2" r="6.35" fill="#c44e52"/>
<circle cx="278.9" cy="953.3" r="6.35" fill="#c44e52"/>
<circle cx="251.4" cy="946.9" r="6.35" fill="#c44e52"/>
<circle cx="262.7" cy="958.9" r="6.35" fill="#c44e52"/>
<circle cx="233.9" cy="924.2" r="6.35" fill="#c44e52"/>
<circle cx="225.4" cy="959.8" r="6.35" fill="#c44e52"/>
<circle cx="276.6" cy="957.5" r="6.35" fill="#c44e52"/>
<circle cx="266.2" cy="967.3" r="6.35" fill="#c44e52"/>
<circle cx="250.8" cy="971.2" r="6.35" fill="#c44e52"/>
<circle cx="202.6" cy="971.6" r="6.35" fill="#c44e52"/>
<circle cx="200.9" cy="938.9" r="6.35" fill="#c44e52"/>
<circle cx="245.8" cy="942.8" r="6.35" fill="#c44e52"/>
<circle cx="209.9" cy="939.6" r="6.35" fill="#c44e52"/>
<circle cx="272.9" cy="955.4" r="6.35" fill="#c44e52"/>
<circle cx="235.6" cy="933.9" r="6.35" fill="#c44e52"/>
<circle cx="248.9" cy="965.3" r="6.35" fill="#c44e52"/>
<circle cx="231.3" cy="955.6" r="6.35" fill="#c44e52"/>
<circle cx="246.9" cy="957.2" r="6.35" fill="#c44e52"/>
<circle cx="202.7" cy="954.1" r="6.35" fill="#c44e52"/>
<circle cx="284.8" cy="951.2" r="6.35" fill="#c44e52"/>
<circle cx="220.0" cy="977.8" r="6.35" fill="#c44e52"/>
<circle cx="238.4" cy="937.3" r="6.35" fill="#c44e52"/>
<circle cx="260.3" cy="956.7" r="6.35" fill="#c44e52"/>
<circle cx="270.5" cy="970.3" r="6.35" fill="#c44e52"/>
<circle cx="232.5" cy="970.1" r="6.35" fill="#c44e52"/>
<circle cx="237.4" cy="970.3" r="6.35" fill="#c44e52"/>
<circle cx="241.8" cy="931.8" r="6.35" fill="#c44e52"/>
<circle cx="286.8" cy="939.8" r="6.35" fill="#c44e52"/>
<circle cx="246.6" cy="981.1" r="6.35" fill="#c44e52"/>
<circle cx="269.0" cy="951.6" r="6.35" fill="#c44e52"/>
<circle cx="238.8" cy="921.0" r="6.35" fill="#c44e52"/>
<circle cx="219.8" cy="949.9" r="6.35" fill="#c44e52"/>
<circle cx="264.2" cy="936.6" r="6.35" fill="#c44e52"/>
<circle cx="214.1" cy="950.1" r="6.35" fill="#c44e52"/>
<path d="M228.1 1103.1l12.4 12.4m-12.4 0l12.4 -12.4M235.4 1100.0l12.4 12.4m-12.4 0l12.4 -12.4M262.3 1099.0l12.4 12.4m-12.4 0l12.4 -12.4M295.5 1082.4l12.4 12.4m-12.4 0l12.4 -12.4M299.7 1086.5l12.4 12.4m-12.4 0l12.4 -12.4M327.0 1083.4l12.4 12.4m-12.4 0l12.4 -12.4M241.5 1111.5l12.4 12.4m-12.4 0l12.4 -12.4M276.8 1110.5l12.4 12.4m-12.4 0l12.4 -12.4M307.9 1100.1l12.4 12.4m-12.4 0l12.4 -12.4M316.2 1099.1l12.4 12.4m-12.4 0l12.4 -12.4M215.6 1146.8l12.4 12.4m-12.4 0l12.4 -12.4M210.4 1155.1l12.4 12.4m-12.4 0l12.4 -12.4M212.5 1165.4l12.4 12.4m-12.4 0l12.4 -12.4M216.6 1182.0l12.4 12.4m-12.4 0l12.4 -12.4M240.5 1183.1l12.4 12.4m-12.4 0l12.4 -12.4M272.6 1182.0l12.4 12.4m-12.4 0l12.4 -12.4M280.9 1175.8l12.4 12.4m-12.4 0l12.4 -12.4M293.4 1167.5l12.4 12.4m-12.4 0l12.4 -12.4M312.0 1179.9l12.4 12.4m-12.4 0l12.4 -12.4M322.4 1155.1l12.4 12.4m-12.4 0l12.4 -12.4M241.5 1167.5l12.4 12.4m-12.4 0l12.4 -12.4M256.0 1163.4l12.4 12.4m-12.4 0l12.4 -12.4M222.8 1171.7l12.4 12.4m-12.4 0l12.4 -12.4M266.4 1171.7l12.4 12.4m-12.4 0l12.4 -12.4M384.6 1087.7l12.4 12.4m-12.4 0l12.4 -12.4M396.0 1087.7l12.4 12.4m-12.4 0l12.4 -12.4M344.2 1108.4l12.4 12.4m-12.4 0l12.4 -12.4M350.4 1112.5l12.4 12.4m-12.4 0l12.4 -12.4M363.9 1167.5l12.4 12.4m-12.4 0l12.4 -12.4M376.3 1155.1l12.4 12.4m-12.4 0l12.4 -12.4M400.2 1158.2l12.4 12.4m-12.4 0l12.4 -12.4M421.9 1153.0l12.4 12.4m-12.4 0l12.4 -12.4M430.2 1171.7l12.4 12.4m-12.4 0l12.4 -12.4M457.8 1178.9l12.4 12.4m-12.4 0l12.4 -12.4M471.7 1141.6l12.4 12.4m-12.4 0l12.4 -12.4M444.8 1130.2l12.4 12.4m-12.4 0l12.4 -12.4M460.3 1126.0l12.4 12.4m-12.4 0l12.4 -12.4M456.2 1103.2l12.4 12.4m-12.4 0l12.4 -12.4M443.7 1097.0l12.4 12.4m-12.4 0l12.4 -12.4M425.1 1100.1l12.4 12.4m-12.4 0l12.4 -12.4M410.5 1094.9l12.4 12.4m-12.4 0l12.4 -12.4M375.3 1101.1l12.4 12.4m-12.4 0l12.4 -12.4M356.6 1144.7l12.4 12.4m-12.4 0l12.4 -12.4M340.0 1142.6l12.4 12.4m-12.4 0l12.4 -12.4M393.9 1140.5l12.4 12.4m-12.4 0l12.4 -12.4M402.2 1138.5l12.4 12.4m-12.4 0l12.4 -12.4M504.9 1105.3l12.4 12.4m-12.4 0l12.4 -12.4M501.8 1110.5l12.4 12.4m-12.4 0l12.4 -12.4M499.7 1119.8l12.4 12.4m-12.4 0l12.4 -12.4M523.6 1119.4l12.4 12.4m-12.4 0l12.4 -12.4M545.4 1105.3l12.4 12.4m-12.4 0l12.4 -12.4M483.1 1189.3l12.4 12.4m-12.4 0l12.4 -12.4M251.2 1144.7l12.4 12.4m-12.4 0l12.4 -12.4M325.5 1142.9l12.4 12.4m-12.4 0l12.4 -12.4M276.8 1134.7l12.4 12.4m-12.4 0l12.4 -12.4M251.5 1128.3l12.4 12.4m-12.4 0l12.4 -12.4M298.4 1118.2l12.4 12.4m-12.4 0l12.4 -12.4M288.4 1128.9l12.4 12.4m-12.4 0l12.4 -12.4M314.2 1129.4l12.4 12.4m-12.4 0l12.4 -12.4M225.5 1149.5l12.4 12.4m-12.4 0l12.4 -12.4M297.2 1147.8l12.4 12.4m-12.4 0l12.4 -12.4M282.7 1156.5l12.4 12.4m-12.4 0l12.4 -12.4M217.5 1148.4l12.4 12.4m-12.4 0l12.4 -12.4M318.4 1132.6l12.4 12.4m-12.4 0l12.4 -12.4M314.5 1140.8l12.4 12.4m-12.4 0l12.4 -12.4M298.5 1158.7l12.4 12.4m-12.4 0l12.4 -12.4M223.1 1143.8l12.4 12.4m-12.4 0l12.4 -12.4M325.4 1129.3l12.4 12.4m-12.4 0l12.4 -12.4M292.2 1143.2l12.4 12.4m-12.4 0l12.4 -12.4M243.6 1144.1l12.4 12.4m-12.4 0l12.4 -12.4M282.6 1133.7l12.4 12.4m-12.4 0l12.4 -12.4M321.5 1130.4l12.4 12.4m-12.4 0l12.4 -12.4M315.3 1134.0l12.4 12.4m-12.4 0l12.4 -12.4M289.2 1146.2l12.4 12.4m-12.4 0l12.4 -12.4M254.5 1135.5l12.4 12.4m-12.4 0l12.4 -12.4M214.8 1157.5l12.4 12.4m-12.4 0l12.4 -12.4M256.8 1142.5l12.4 12.4m-12.4 0l12.4 -12.4M320.4 1119.5l12.4 12.4m-12.4 0l12.4 -12.4M287.5 1136.4l12.4 12.4m-12.4 0l12.4 -12.4M218.0 1154.0l12.4 12.4m-12.4 0l12.4 -12.4M216.0 1165.0l12.4 12.4m-12.4 0l12.4 -12.4M255.9 1125.4l12.4 12.4m-12.4 0l12.4 -12.4M315.6 1145.6l12.4 12.4m-12.4 0l12.4 -12.4M298.6 1132.5l12.4 12.4m-12.4 0l12.4 -12.4M259.9 1130.6l12.4 12.4m-12.4 0l12.4 -12.4M333.8 1132.7l12.4 12.4m-12.4 0l12.4 -12.4M238.9 1154.4l12.4 12.4m-12.4 0l12.4 -12.4M251.1 1160.0l12.4 12.4m-12.4 0l12.4 -12.4M298.4 1123.9l12.4 12.4m-12.4 0l12.4 -12.4M232.0 1147.6l12.4 12.4m-12.4 0l12.4 -12.4M275.3 1144.7l12.4 12.4m-12.4 0l12.4 -12.4M226.0 1142.2l12.4 12.4m-12.4 0l12.4 -12.4M222.5 1164.6l12.4 12.4m-12.4 0l12.4 -12.4M295.7 1138.3l12.4 12.4m-12.4 0l12.4 -12.4M322.4 1135.9l12.4 12.4m-12.4 0l12.4 -12.4M311.6 1153.8l12.4 12.4m-12.4 0l12.4 -12.4M329.8 1137.8l12.4 12.4m-12.4 0l12.4 -12.4M285.1 1121.0l12.4 12.4m-12.4 0l12.4 -12.4M228.2 1144.9l12.4 12.4m-12.4 0l12.4 -12.4M267.6 1136.9l12.4 12.4m-12.4 0l12.4 -12.4M279.2 1128.7l12.4 12.4m-12.4 0l12.4 -12.4M326.7 1150.7l12.4 12.4m-12.4 0l12.4 -12.4M324.3 1132.6l12.4 12.4m-12.4 0l12.4 -12.4M281.5 1152.8l12.4 12.4m-12.4 0l12.4 -12.4M239.2 1122.1l12.4 12.4m-12.4 0l12.4 -12.4M292.6 1160.9l12.4 12.4m-12.4 0l12.4 -12.4M234.7 1128.2l12.4 12.4m-12.4 0l12.4 -12.4M265.7 1142.9l12.4 12.4m-12.4 0l12.4 -12.4M312.2 1132.8l12.4 12.4m-12.4 0l12.4 -12.4M302.5 1134.8l12.4 12.4m-12.4 0l12.4 -12.4M249.5 1133.1l12.4 12.4m-12.4 0l12.4 -12.4M227.7 1152.7l12.4 12.4m-12.4 0l12.4 -12.4M268.2 1153.1l12.4 12.4m-12.4 0l12.4 -12.4M270.4 1156.7l12.4 12.4m-12.4 0l12.4 -12.4M215.0 1138.7l12.4 12.4m-12.4 0l12.4 -12.4M229.1 1133.6l12.4 12.4m-12.4 0l12.4 -12.4M269.9 1124.5l12.4 12.4m-12.4 0l12.4 -12.4M265.0 1131.9l12.4 12.4m-12.4 0l12.4 -12.4M275.4 1139.4l12.4 12.4m-12.4 0l12.4 -12.4M228.5 1138.1l12.4 12.4m-12.4 0l12.4 -12.4M316.3 1112.8l12.4 12.4m-12.4 0l12.4 -12.4M301.4 1121.8l12.4 12.4m-12.4 0l12.4 -12.4M227.7 1167.4l12.4 12.4m-12.4 0l12.4 -12.4M243.3 1158.0l12.4 12.4m-12.4 0l12.4 -12.4M323.8 1125.8l12.4 12.4m-12.4 0l12.4 -12.4M323.8 1161.6l12.4 12.4m-12.4 0l12.4 -12.4M292.7 1134.5l12.4 12.4m-12.4 0l12.4 -12.4M238.7 1128.0l12.4 12.4m-12.4 0l12.4 -12.4M270.6 1161.3l12.4 12.4m-12.4 0l12.4 -12.4M238.4 1135.2l12.4 12.4m-12.4 0l12.4 -12.4M235.5 1119.3l12.4 12.4m-12.4 0l12.4 -12.4M310.3 1137.2l12.4 12.4m-12.4 0l12.4 -12.4M229.8 1130.4l12.4 12.4m-12.4 0l12.4 -12.4M238.2 1166.2l12.4 12.4m-12.4 0l12.4 -12.4M338.0 1147.4l12.4 12.4m-12.4 0l12.4 -12.4M242.2 1131.3l12.4 12.4m-12.4 0l12.4 -12.4M301.5 1147.1l12.4 12.4m-12.4 0l12.4 -12.4M214.3 1142.3l12.4 12.4m-12.4 0l12.4 -12.4M255.4 1156.6l12.4 12.4m-12.4 0l12.4 -12.4M249.8 1154.3l12.4 12.4m-12.4 0l12.4 -12.4M333.0 1145.5l12.4 12.4m-12.4 0l12.4 -12.4M336.0 1119.7l12.4 12.4m-12.4 0l12.4 -12.4M297.9 1128.7l12.4 12.4m-12.4 0l12.4 -12.4M219.3 1136.7l12.4 12.4m-12.4 0l12.4 -12.4M322.3 1154.1l12.4 12.4m-12.4 0l12.4 -12.4M292.3 1124.7l12.4 12.4m-12.4 0l12.4 -12.4M303.9 1128.7l12.4 12.4m-12.4 0l12.4 -12.4M260.1 1137.2l12.4 12.4m-12.4 0l12.4 -12.4M282.3 1143.5l12.4 12.4m-12.4 0l12.4 -12.4M282.2 1165.3l12.4 12.4m-12.4 0l12.4 -12.4M318.0 1123.5l12.4 12.4m-12.4 0l12.4 -12.4M262.5 1139.4l12.4 12.4m-12.4 0l12.4 -12.4M240.3 1143.6l12.4 12.4m-12.4 0l12.4 -12.4M228.9 1156.6l12.4 12.4m-12.4 0l12.4 -12.4M265.3 1155.5l12.4 12.4m-12.4 0l12.4 -12.4M312.7 1157.0l12.4 12.4m-12.4 0l12.4 -12.4M306.6 1147.5l12.4 12.4m-12.4 0l12.4 -12.4M336.4 1141.1l12.4 12.4m-12.4 0l12.4 -12.4M305.7 1134.0l12.4 12.4m-12.4 0l12.4 -12.4M336.7 1129.3l12.4 12.4m-12.4 0l12.4 -12.4M249.2 1150.9l12.4 12.4m-12.4 0l12.4 -12.4M330.7 1134.3l12.4 12.4m-12.4 0l12.4 -12.4M272.0 1141.2l12.4 12.4m-12.4 0l12.4 -12.4M263.7 1148.4l12.4 12.4m-12.4 0l12.4 -12.4M247.0 1127.5l12.4 12.4m-12.4 0l12.4 -12.4M225.3 1161.2l12.4 12.4m-12.4 0l12.4 -12.4M317.3 1158.7l12.4 12.4m-12.4 0l12.4 -12.4M233.8 1142.2l12.4 12.4m-12.4 0l12.4 -12.4M240.4 1150.2l12.4 12.4m-12.4 0l12.4 -12.4M237.1 1146.1l12.4 12.4m-12.4 0l12.4 -12.4M329.6 1146.3l12.4 12.4m-12.4 0l12.4 -12.4M289.6 1114.6l12.4 12.4m-12.4 0l12.4 -12.4M279.0 1124.3l12.4 12.4m-12.4 0l12.4 -12.4M257.2 1148.9l12.4 12.4m-12.4 0l12.4 -12.4M254.3 1165.2l12.4 12.4m-12.4 0l12.4 -12.4M214.6 1171.4l12.4 12.4m-12.4 0l12.4 -12.4M313.8 1149.8l12.4 12.4m-12.4 0l12.4 -12.4M333.2 1117.7l12.4 12.4m-12.4 0l12.4 -12.4M322.2 1147.7l12.4 12.4m-12.4 0l12.4 -12.4M271.8 1146.5l12.4 12.4m-12.4 0l12.4 -12.4M262.4 1115.5l12.4 12.4m-12.4 0l12.4 -12.4M289.7 1153.9l12.4 12.4m-12.4 0l12.4 -12.4M259.1 1121.8l12.4 12.4m-12.4 0l12.4 -12.4M234.6 1153.0l12.4 12.4m-12.4 0l12.4 -12.4M288.4 1119.0l12.4 12.4m-12.4 0l12.4 -12.4M261.5 1145.0l12.4 12.4m-12.4 0l12.4 -12.4M233.4 1158.3l12.4 12.4m-12.4 0l12.4 -12.4M218.3 1144.9l12.4 12.4m-12.4 0l12.4 -12.4M253.8 1151.0l12.4 12.4m-12.4 0l12.4 -12.4M281.4 1136.9l12.4 12.4m-12.4 0l12.4 -12.4M295.6 1131.0l12.4 12.4m-12.4 0l12.4 -12.4M330.0 1156.6l12.4 12.4m-12.4 0l12.4 -12.4M304.6 1153.5l12.4 12.4m-12.4 0l12.4 -12.4M247.4 1170.4l12.4 12.4m-12.4 0l12.4 -12.4M259.3 1164.6l12.4 12.4m-12.4 0l12.4 -12.4M269.2 1116.6l12.4 12.4m-12.4 0l12.4 -12.4M325.9 1137.7l12.4 12.4m-12.4 0l12.4 -12.4M285.2 1114.7l12.4 12.4m-12.4 0l12.4 -12.4M302.2 1143.4l12.4 12.4m-12.4 0l12.4 -12.4M285.9 1152.7l12.4 12.4m-12.4 0l12.4 -12.4M232.1 1165.3l12.4 12.4m-12.4 0l12.4 -12.4M301.8 1131.2l12.4 12.4m-12.4 0l12.4 -12.4M358.1 1133.5l12.4 12.4m-12.4 0l12.4 -12.4M342.3 1129.3l12.4 12.4m-12.4 0l12.4 -12.4M361.8 1117.5l12.4 12.4m-12.4 0l12.4 -12.4M337.1 1111.7l12.4 12.4m-12.4 0l12.4 -12.4M349.8 1133.5l12.4 12.4m-12.4 0l12.4 -12.4M353.0 1128.1l12.4 12.4m-12.4 0l12.4 -12.4M334.8 1133.1l12.4 12.4m-12.4 0l12.4 -12.4M354.5 1139.1l12.4 12.4m-12.4 0l12.4 -12.4M334.0 1120.4l12.4 12.4m-12.4 0l12.4 -12.4M364.4 1123.0l12.4 12.4m-12.4 0l12.4 -12.4M366.0 1112.4l12.4 12.4m-12.4 0l12.4 -12.4M355.7 1114.5l12.4 12.4m-12.4 0l12.4 -12.4M366.0 1120.4l12.4 12.4m-12.4 0l12.4 -12.4M402.5 1112.4l12.4 12.4m-12.4 0l12.4 -12.4M423.3 1119.0l12.4 12.4m-12.4 0l12.4 -12.4M406.0 1106.1l12.4 12.4m-12.4 0l12.4 -12.4M364.8 1112.9l12.4 12.4m-12.4 0l12.4 -12.4M442.0 1118.0l12.4 12.4m-12.4 0l12.4 -12.4M410.8 1117.6l12.4 12.4m-12.4 0l12.4 -12.4M376.6 1109.5l12.4 12.4m-12.4 0l12.4 -12.4M370.1 1112.3l12.4 12.4m-12.4 0l12.4 -12.4M407.4 1098.7l12.4 12.4m-12.4 0l12.4 -12.4M415.8 1117.1l12.4 12.4m-12.4 0l12.4 -12.4M367.6 1141.9l12.4 12.4m-12.4 0l12.4 -12.4M387.0 1112.5l12.4 12.4m-12.4 0l12.4 -12.4M445.9 1108.1l12.4 12.4m-12.4 0l12.4 -12.4M442.4 1112.8l12.4 12.4m-12.4 0l12.4 -12.4M414.5 1131.9l12.4 12.4m-12.4 0l12.4 -12.4M418.3 1121.7l12.4 12.4m-12.4 0l12.4 -12.4M390.2 1096.7l12.4 12.4m-12.4 0l12.4 -12.4M441.6 1107.3l12.4 12.4m-12.4 0l12.4 -12.4M434.5 1128.5l12.4 12.4m-12.4 0l12.4 -12.4M393.6 1123.8l12.4 12.4m-12.4 0l12.4 -12.4M377.4 1098.1l12.4 12.4m-12.4 0l12.4 -12.4M371.5 1102.7l12.4 12.4m-12.4 0l12.4 -12.4M453.0 1112.9l12.4 12.4m-12.4 0l12.4 -12.4M369.2 1125.3l12.4 12.4m-12.4 0l12.4 -12.4M374.7 1123.3l12.4 12.4m-12.4 0l12.4 -12.4M409.6 1112.4l12.4 12.4m-12.4 0l12.4 -12.4M400.7 1119.1l12.4 12.4m-12.4 0l12.4 -12.4M447.4 1113.1l12.4 12.4m-12.4 0l12.4 -12.4M455.3 1124.8l12.4 12.4m-12.4 0l12.4 -12.4M447.5 1120.4l12.4 12.4m-12.4 0l12.4 -12.4M427.9 1108.6l12.4 12.4m-12.4 0l12.4 -12.4M406.0 1133.6l12.4 12.4m-12.4 0l12.4 -12.4M442.5 1100.5l12.4 12.4m-12.4 0l12.4 -12.4M369.9 1133.4l12.4 12.4m-12.4 0l12.4 -12.4M379.1 1131.2l12.4 12.4m-12.4 0l12.4 -12.4M424.6 1111.3l12.4 12.4m-12.4 0l12.4 -12.4M448.4 1127.4l12.4 12.4m-12.4 0l12.4 -12.4M389.8 1115.6l12.4 12.4m-12.4 0l12.4 -12.4M452.5 1101.2l12.4 12.4m-12.4 0l12.4 -12.4M432.8 1120.4l12.4 12.4m-12.4 0l12.4 -12.4M374.8 1138.4l12.4 12.4m-12.4 0l12.4 -12.4M364.5 1133.6l12.4 12.4m-12.4 0l12.4 -12.4M394.3 1115.1l12.4 12.4m-12.4 0l12.4 -12.4M373.1 1129.1l12.4 12.4m-12.4 0l12.4 -12.4M384.5 1117.5l12.4 12.4m-12.4 0l12.4 -12.4M420.8 1107.7l12.4 12.4m-12.4 0l12.4 -12.4M380.6 1114.9l12.4 12.4m-12.4 0l12.4 -12.4M429.2 1099.5l12.4 12.4m-12.4 0l12.4 -12.4M386.1 1122.5l12.4 12.4m-12.4 0l12.4 -12.4" stroke="#8172b2" stroke-width="2.7" fill="none"/>
</g>
<line x1="190.7" y1="957.3" x2="510.9" y2="905" stroke="#000" stroke-width="2.8" stroke-dasharray="17 17.05"/>
<line x1="219.7" y1="1151.3" x2="541.2" y2="1114" stroke="#000" stroke-width="2.8" stroke-dasharray="17 17.05"/>
<line x1="192.3" y1="732.1" x2="192.3" y2="749.4" stroke="#262626" stroke-width="2.8"/>
<line x1="192.3" y1="1267.1" x2="192.3" y2="1284.4" stroke="#262626" stroke-width="2.8"/>
<line x1="324.4" y1="732.1" x2="324.4" y2="749.4" stroke="#262626" stroke-width="2.8"/>
<line x1="324.4" y1="1267.1" x2="324.4" y2="1284.4" stroke="#262626" stroke-width="2.8"/>
<line x1="456.5" y1="732.1" x2="456.5" y2="749.4" stroke="#262626" stroke-width="2.8"/>
<line x1="456.5" y1="1267.1" x2="456.5" y2="1284.4" stroke="#262626" stroke-width="2.8"/>
<line x1="588.6" y1="732.1" x2="588.6" y2="749.4" stroke="#262626" stroke-width="2.8"/>
<line x1="588.6" y1="1267.1" x2="588.6" y2="1284.4" stroke="#262626" stroke-width="2.8"/>
<line x1="108.9" y1="749.4" x2="126.2" y2="749.4" stroke="#262626" stroke-width="2.8"/>
<line x1="654.7" y1="749.4" x2="672.0" y2="749.4" stroke="#262626" stroke-width="2.8"/>
<line x1="108.9" y1="814.1" x2="126.2" y2="814.1" stroke="#262626" stroke-width="2.8"/>
<line x1="654.7" y1="814.1" x2="672.0" y2="814.1" stroke="#262626" stroke-width="2.8"/>
<line x1="108.9" y1="878.8" x2="126.2" y2="878.8" stroke="#262626" stroke-width="2.8"/>
<line x1="654.7" y1="878.8" x2="672.0" y2="878.8" stroke="#262626" stroke-width="2.8"/>
<line x1="108.9" y1="943.5" x2="126.2" y2="943.5" stroke="#262626" stroke-width="2.8"/>
<line x1="654.7" y1="943.5" x2="672.0" y2="943.5" stroke="#262626" stroke-width="2.8"/>
<line x1="108.9" y1="1008.2" x2="126.2" y2="1008.2" stroke="#262626" stroke-width="2.8"/>
<line x1="654.7" y1="1008.2" x2="672.0" y2="1008.2" stroke="#262626" stroke-width="2.8"/>
<line x1="108.9" y1="1073.0" x2="126.2" y2="1073.0" stroke="#262626" stroke-width="2.8"/>
<line x1="654.7" y1="1073.0" x2="672.0" y2="1073.0" stroke="#262626" stroke-width="2.8"/>
<line x1="108.9" y1="1137.7" x2="126.2" y2="1137.7" stroke="#262626" stroke-width="2.8"/>
<line x1="654.7" y1="1137.7" x2="672.0" y2="1137.7" stroke="#262626" stroke-width="2.8"/>
<line x1="108.9" y1="1202.4" x2="126.2" y2="1202.4" stroke="#262626" stroke-width="2.8"/>
<line x1="654.7" y1="1202.4" x2="672.0" y2="1202.4" stroke="#262626" stroke-width="2.8"/>
<line x1="108.9" y1="1267.1" x2="126.2" y2="1267.1" stroke="#262626" stroke-width="2.8"/>
<line x1="654.7" y1="1267.1" x2="672.0" y2="1267.1" stroke="#262626" stroke-width="2.8"/>
<rect x="126.2" y="749.4" width="528.5" height="517.7" fill="none" stroke="#262626" stroke-width="3.6"/>
<text x="192.3" y="1319.0" font-size="28.6" text-anchor="middle" fill="#262626">0.5</text>
<text x="324.4" y="1319.0" font-size="28.6" text-anchor="middle" fill="#262626">1.0</text>
<text x="456.5" y="1319.0" font-size="28.6" text-anchor="middle" fill="#262626">1.5</text>
<text x="588.6" y="1319.0" font-size="28.6" text-anchor="middle" fill="#262626">2.0</text>
<text x="94.7" y="756.6" font-size="28.6" text-anchor="end" fill="#262626">5.0</text>
<text x="94.7" y="821.3" font-size="28.6" text-anchor="end" fill="#262626">4.5</text>
<text x="94.7" y="886.0" font-size="28.6" text-anchor="end" fill="#262626">4.0</text>
<text x="94.7" y="950.7" font-size="28.6" text-anchor="end" fill="#262626">3.5</text>
<text x="94.7" y="1015.5" font-size="28.6" text-anchor="end" fill="#262626">3.0</text>
<text x="94.7" y="1080.2" font-size="28.6" text-anchor="end" fill="#262626">2.5</text>
<text x="94.7" y="1144.9" font-size="28.6" text-anchor="end" fill="#262626">2.0</text>
<text x="94.7" y="1209.6" font-size="28.6" text-anchor="end" fill="#262626">1.5</text>
<text x="94.7" y="1274.3" font-size="28.6" text-anchor="end" fill="#262626">1.0</text>
<line x1="407.5" y1="778.8" x2="453.3" y2="778.8" stroke="#000" stroke-width="7.6" stroke-dasharray="17.4 16.9"/>
<text x="471.3" y="786.7" font-size="22.9" fill="#262626">Fit</text>
<circle cx="430.7" cy="813.4" r="6.5" fill="#c44e52"/>
<text x="471.3" y="819.4" font-size="22.9" fill="#262626">25 μm</text>
<text x="579.7" y="819.4" font-size="22.9" fill="#262626">(282)</text>
<path d="M424.5 841.8L436.9 854.2M424.5 854.2L436.9 841.8" stroke="#8172b2" stroke-width="3.9" fill="none"/>
<text x="471.3" y="854.0" font-size="22.9" fill="#262626">30 μm</text>
<text x="579.7" y="854.0" font-size="22.9" fill="#262626">(264)</text>
<text x="497" y="936" font-size="28.8" font-weight="bold" fill="#c44e52">slope=0.3</text>
<text x="512" y="1160" font-size="28.8" font-weight="bold" fill="#c44e52">slope=0.2</text>
<text x="126.4" y="741" font-size="28.6" fill="#262626">1e−3</text>
<text x="654" y="1355" font-size="28.6" text-anchor="end" fill="#262626">1e−3</text>
<text x="389" y="1359.5" font-size="28.5" text-anchor="middle" fill="#262626">Duration Δt (s)</text>
<text transform="translate(44.6,1010.3) rotate(-90)" font-size="28.5" text-anchor="middle" fill="#262626"><tspan letter-spacing="-0.2">Amplitude</tspan> ΔI/I<tspan font-size="19.8" dy="1.5">p</tspan></text>
<text x="20.8" y="751.5" font-size="39.6" font-weight="bold" fill="#da2128">b</text>
</svg>
</body></html>
